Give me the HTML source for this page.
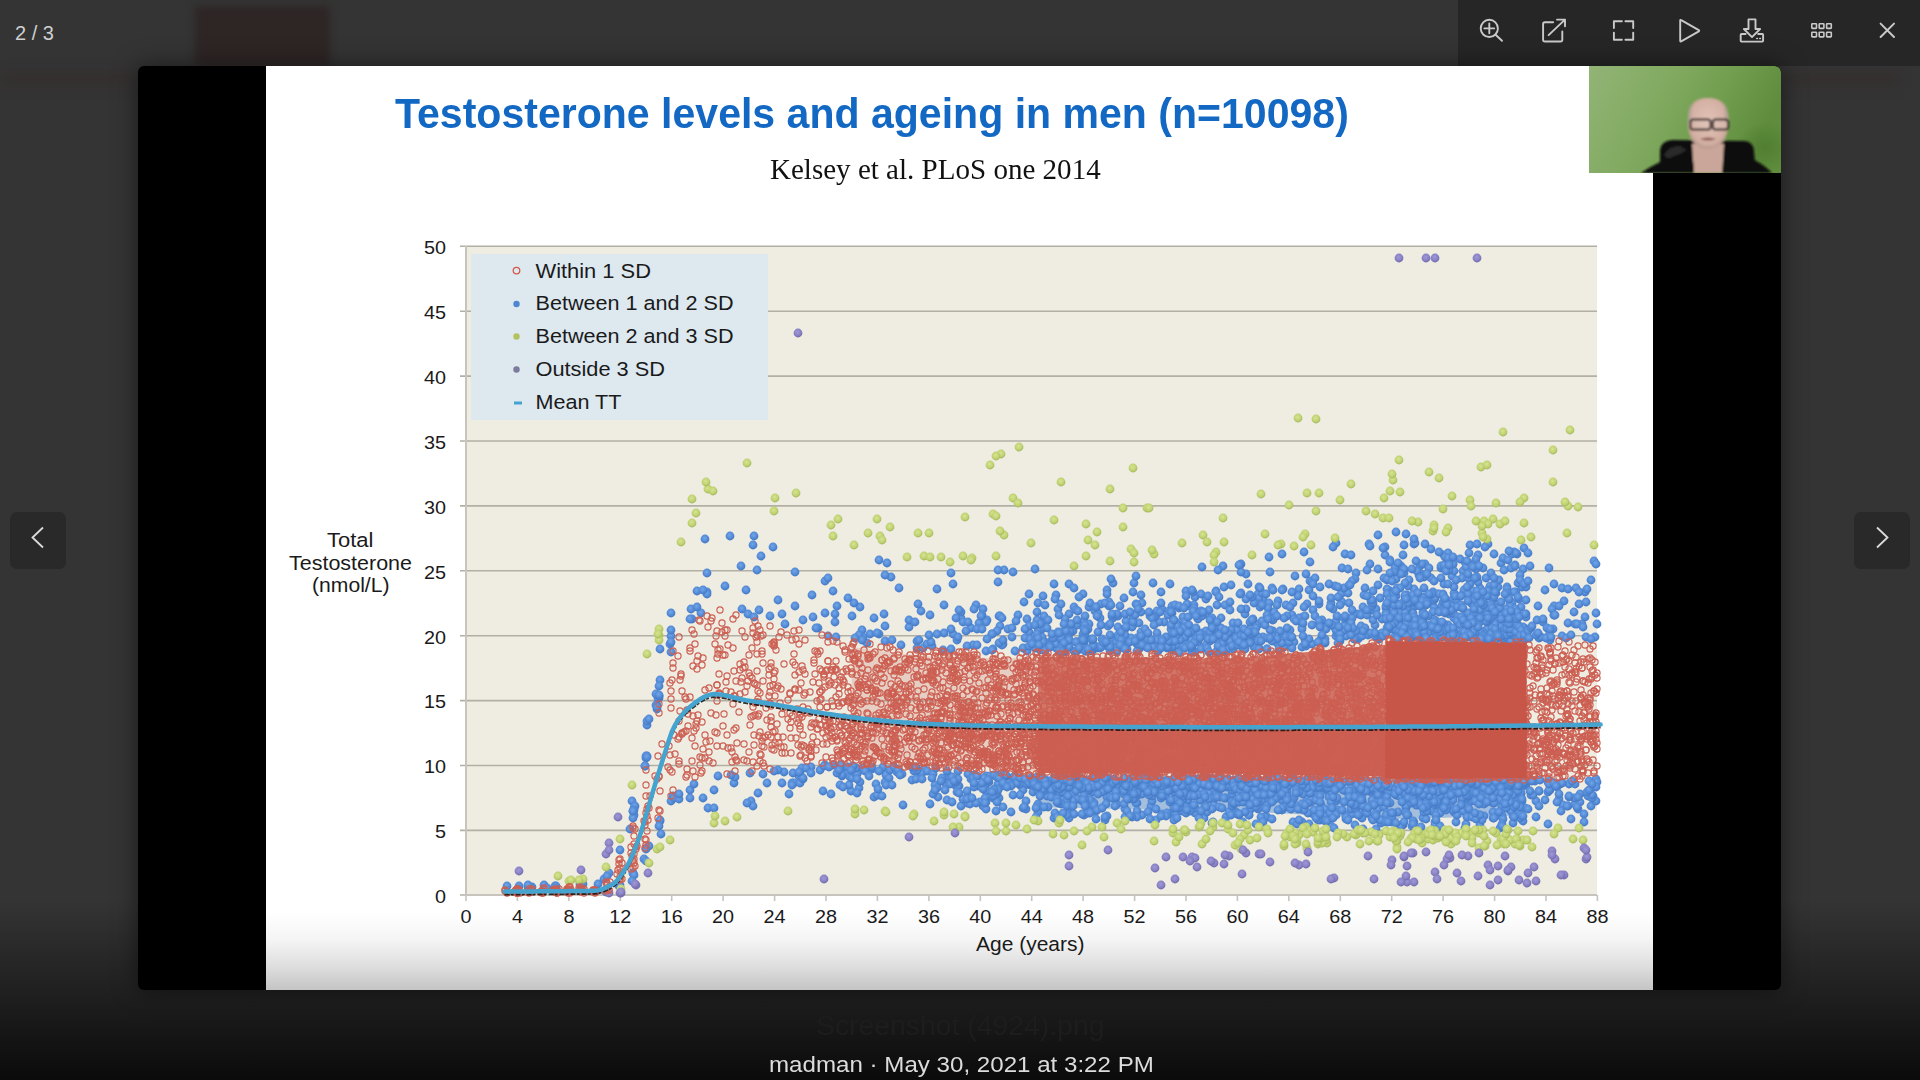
<!DOCTYPE html>
<html><head><meta charset="utf-8">
<style>
*{margin:0;padding:0;box-sizing:border-box}
html,body{width:1920px;height:1080px;overflow:hidden;background:#343434;font-family:"Liberation Sans",sans-serif;position:relative}
.abs{position:absolute}
#toolbar{left:1458px;top:0;width:462px;height:66px;background:#262626}
#counter{left:15px;top:22px;color:#cfcfcf;font-size:20px}
#frame{left:138px;top:66px;width:1643px;height:924px;background:#000;border-radius:6px;overflow:hidden;box-shadow:0 0 24px rgba(0,0,0,0.5)}
#slide{left:128px;top:0;width:1387px;height:924px;background:#fff}
#slidegrad{left:0;bottom:0;width:1387px;height:78px;background:linear-gradient(#fff 0%,#f5f5f5 35%,#dedede 70%,#c4c4c4 100%)}
#title{left:129px;top:23px;color:#1268c2;font-weight:bold;font-size:43px;white-space:nowrap;transform:scaleX(0.9545);transform-origin:0 0}
#subtitle{left:504px;top:86px;color:#111;font-family:"Liberation Serif",serif;font-size:30px;white-space:nowrap;transform:scaleX(0.968);transform-origin:0 0}
#cam{left:1451px;top:0;width:192px;height:107px;overflow:hidden;border-top-right-radius:6px}
#bottom{left:0;top:900px;width:1920px;height:180px;background:linear-gradient(rgba(0,0,0,0),rgba(0,0,0,0.38) 50%,rgba(0,0,0,0.8))}
#fname{left:816px;top:1011px;color:#1d1d1d;font-size:27px;white-space:nowrap;transform:scaleX(1.05);transform-origin:0 0}
#caption{left:769px;top:1052.5px;color:#dcdcdc;font-size:21.5px;white-space:nowrap;transform:scaleX(1.122);transform-origin:0 0}
.nav{top:512px;width:56px;height:57px;background:#292929;border-radius:7px}
</style></head>
<body>
<div class="abs" style="left:195px;top:6px;width:135px;height:60px;background:#2e2525;filter:blur(4px)"></div>
<div class="abs" style="left:0;top:70px;width:138px;height:18px;background:#352d2d;filter:blur(6px);opacity:0.6"></div>
<div class="abs" style="left:1781px;top:70px;width:120px;height:18px;background:#352d2d;filter:blur(6px);opacity:0.6"></div>
<div class="abs" id="toolbar"></div>
<svg class="abs" style="left:1458px;top:0" width="462" height="66" viewBox="1458 0 462 66" fill="none" stroke="#c9c9c9" stroke-width="1.9" stroke-linecap="round" stroke-linejoin="round">
<circle cx="1489.3" cy="28.4" r="8.6"/>
<path d="M1484.4 28.4h9.8M1489.3 23.5v9.8M1495.6 34.7l6.4 6.1"/>
<path d="M1553.2 22.2h-8.3q-1.8 0-1.8 1.8v15.7q0 1.8 1.8 1.8h15.6q1.8 0 1.8-1.8v-8.2"/>
<path d="M1548.6 35.1L1565 19.6M1557 19.6h8v6.6"/>
<path d="M1613.9 28.1v-6.8h8M1625.4 21.3h7.8v6.8M1633.2 32.6v7.1h-7.8M1621.9 39.7h-8v-7.1"/>
<path d="M1680.2 20.5v20.2q0 1.2 1 0.6l17.6-10q0.8-0.6 0-1.2l-17.6-10q-1-0.6-1 0.4z"/>
<path d="M1748.5 19.4h7v9.6h4.6l-8.1 8.1l-8.1-8.1h4.6z"/>
<path d="M1745.6 34h-4.1q-0.8 0-0.8 0.8v6q0 0.8 0.8 0.8h20.8q0.8 0 0.8-0.8v-6q0-0.8-0.8-0.8h-4.1"/>
<path d="M1756.8 38.5h0.6M1759.8 38.5h0.6" stroke-width="1.6"/>
<g stroke-width="1.6"><rect x="1811.8" y="23.7" width="4.7" height="4.7" rx="0.6"/><rect x="1819.2" y="23.7" width="4.7" height="4.7" rx="0.6"/><rect x="1826.6" y="23.7" width="4.7" height="4.7" rx="0.6"/>
<rect x="1811.8" y="32.2" width="4.7" height="4.7" rx="0.6"/><rect x="1819.2" y="32.2" width="4.7" height="4.7" rx="0.6"/><rect x="1826.6" y="32.2" width="4.7" height="4.7" rx="0.6"/></g>
<path d="M1880.6 23.6l13.4 13.4M1894 23.6l-13.4 13.4" stroke-width="2"/>
</svg>
<div class="abs" id="counter">2 / 3</div>

<div class="abs" id="bottom"></div>
<div class="abs" id="frame">
  <div class="abs" id="slide">
    <div class="abs" id="slidegrad"></div>
    <div class="abs" id="title">Testosterone levels and ageing in men (n=10098)</div>
    <div class="abs" id="subtitle">Kelsey et al. PLoS one 2014</div>
  </div>
  <div class="abs" id="cam"><svg width="192" height="107" viewBox="1589 66 192 107">
<defs>
<linearGradient id="cbg" x1="0" y1="0" x2="1" y2="0.3"><stop offset="0" stop-color="#92b476"/><stop offset="0.45" stop-color="#80a95f"/><stop offset="0.75" stop-color="#6f9c4c"/><stop offset="1" stop-color="#5f8d3d"/></linearGradient>
<radialGradient id="cface" cx="50%" cy="45%" r="55%"><stop offset="0" stop-color="#e2c3b6"/><stop offset="0.8" stop-color="#d4b0a3"/><stop offset="1" stop-color="#b99a8e"/></radialGradient>
<radialGradient id="cshade" cx="80%" cy="65%" r="35%"><stop offset="0" stop-color="#4d7a2e" stop-opacity="0.8"/><stop offset="1" stop-color="#4d7a2e" stop-opacity="0"/></radialGradient>
<filter id="cblur" x="-10%" y="-10%" width="120%" height="120%"><feGaussianBlur stdDeviation="0.8"/></filter>
</defs>
<rect x="1589" y="66" width="192" height="107" fill="url(#cbg)"/>
<rect x="1700" y="100" width="81" height="73" fill="url(#cshade)"/>
<g filter="url(#cblur)">
<path d="M1660 173 L1660 150 Q1661 141 1672 140 L1745 141 Q1754 142 1754 152 L1756 173Z" fill="#0d0d0d"/>
<path d="M1664 156 Q1668 146 1680 146 L1686 150 L1672 160Z" fill="#3a3a3a" opacity="0.7"/>
<path d="M1641 173 Q1660 160 1685 152 L1732 152 Q1758 158 1772 173Z" fill="#0a0a0a"/>
<path d="M1692 144 L1724 144 L1723 160 Q1722 173 1722 173 L1694 173 Q1694 165 1693 160Z" fill="#c9a699"/>
<path d="M1688 118 Q1688 98 1708 98 Q1728 98 1728.5 118 Q1729 136 1722 143 Q1714 149 1708 149 Q1701 149 1694 143 Q1687 136 1688 118Z" fill="url(#cface)"/>
<path d="M1688 122 Q1687 108 1692 104 L1691 122Z M1728.5 122 Q1729 108 1724 104 L1725 122Z" fill="#a89e96" opacity="0.6"/>
<rect x="1690.5" y="119.5" width="20" height="10" rx="2.5" fill="#e8ddd8" fill-opacity="0.12" stroke="#2a2020" stroke-width="2"/>
<rect x="1713" y="119.5" width="15" height="10" rx="2.5" fill="#e8ddd8" fill-opacity="0.12" stroke="#2a2020" stroke-width="2"/>
<path d="M1700 139 Q1708 136 1716 139 Q1708 142 1700 139Z" fill="#8a5a55"/>
</g>
</svg></div>
</div>

<svg class="abs" style="left:0;top:0" width="1920" height="1080" viewBox="0 0 1920 1080">
<defs>
<radialGradient id="gb" cx="45%" cy="40%" r="60%"><stop offset="0" stop-color="#74a6e8"/><stop offset="0.65" stop-color="#528ad6"/><stop offset="1" stop-color="#4476c0"/></radialGradient>
<radialGradient id="gg" cx="45%" cy="40%" r="60%"><stop offset="0" stop-color="#d6e491"/><stop offset="0.65" stop-color="#c0d272"/><stop offset="1" stop-color="#a3b65a"/></radialGradient>
<radialGradient id="gp" cx="45%" cy="40%" r="60%"><stop offset="0" stop-color="#9f99d8"/><stop offset="0.65" stop-color="#8881c4"/><stop offset="1" stop-color="#6e68a8"/></radialGradient>
<marker id="mb" markerUnits="userSpaceOnUse" markerWidth="12" markerHeight="12" refX="6" refY="6" overflow="visible"><circle cx="6" cy="6" r="4.4" fill="url(#gb)"/></marker>
<marker id="mg" markerUnits="userSpaceOnUse" markerWidth="12" markerHeight="12" refX="6" refY="6" overflow="visible"><circle cx="6" cy="6" r="4.4" fill="url(#gg)"/></marker>
<marker id="mp" markerUnits="userSpaceOnUse" markerWidth="12" markerHeight="12" refX="6" refY="6" overflow="visible"><circle cx="6" cy="6" r="4.4" fill="url(#gp)"/></marker>
<marker id="mr" markerUnits="userSpaceOnUse" markerWidth="12" markerHeight="12" refX="6" refY="6" overflow="visible"><circle cx="6" cy="6" r="3.1" fill="none" stroke="#cc5f52" stroke-width="1.15"/></marker>
</defs>
<rect x="466" y="246" width="1131" height="650" fill="#efece2"/>
<line x1="460" y1="830.4" x2="1597" y2="830.4" stroke="#b2afa5" stroke-width="1.6"/>
<line x1="460" y1="765.5" x2="1597" y2="765.5" stroke="#b2afa5" stroke-width="1.6"/>
<line x1="460" y1="700.6" x2="1597" y2="700.6" stroke="#b2afa5" stroke-width="1.6"/>
<line x1="460" y1="635.7" x2="1597" y2="635.7" stroke="#b2afa5" stroke-width="1.6"/>
<line x1="460" y1="570.8" x2="1597" y2="570.8" stroke="#b2afa5" stroke-width="1.6"/>
<line x1="460" y1="505.9" x2="1597" y2="505.9" stroke="#b2afa5" stroke-width="1.6"/>
<line x1="460" y1="441.0" x2="1597" y2="441.0" stroke="#b2afa5" stroke-width="1.6"/>
<line x1="460" y1="376.1" x2="1597" y2="376.1" stroke="#b2afa5" stroke-width="1.6"/>
<line x1="460" y1="311.2" x2="1597" y2="311.2" stroke="#b2afa5" stroke-width="1.6"/>
<line x1="460" y1="246.3" x2="1597" y2="246.3" stroke="#b2afa5" stroke-width="1.6"/>
<line x1="466" y1="246" x2="466" y2="896" stroke="#c6c4bd" stroke-width="2"/>
<line x1="460" y1="895" x2="1597" y2="895" stroke="#c6c4bd" stroke-width="2"/>
<line x1="466.0" y1="895" x2="466.0" y2="901" stroke="#c6c4bd" stroke-width="1.6"/>
<line x1="517.4" y1="895" x2="517.4" y2="901" stroke="#c6c4bd" stroke-width="1.6"/>
<line x1="568.9" y1="895" x2="568.9" y2="901" stroke="#c6c4bd" stroke-width="1.6"/>
<line x1="620.3" y1="895" x2="620.3" y2="901" stroke="#c6c4bd" stroke-width="1.6"/>
<line x1="671.7" y1="895" x2="671.7" y2="901" stroke="#c6c4bd" stroke-width="1.6"/>
<line x1="723.1" y1="895" x2="723.1" y2="901" stroke="#c6c4bd" stroke-width="1.6"/>
<line x1="774.6" y1="895" x2="774.6" y2="901" stroke="#c6c4bd" stroke-width="1.6"/>
<line x1="826.0" y1="895" x2="826.0" y2="901" stroke="#c6c4bd" stroke-width="1.6"/>
<line x1="877.4" y1="895" x2="877.4" y2="901" stroke="#c6c4bd" stroke-width="1.6"/>
<line x1="928.9" y1="895" x2="928.9" y2="901" stroke="#c6c4bd" stroke-width="1.6"/>
<line x1="980.3" y1="895" x2="980.3" y2="901" stroke="#c6c4bd" stroke-width="1.6"/>
<line x1="1031.7" y1="895" x2="1031.7" y2="901" stroke="#c6c4bd" stroke-width="1.6"/>
<line x1="1083.1" y1="895" x2="1083.1" y2="901" stroke="#c6c4bd" stroke-width="1.6"/>
<line x1="1134.6" y1="895" x2="1134.6" y2="901" stroke="#c6c4bd" stroke-width="1.6"/>
<line x1="1186.0" y1="895" x2="1186.0" y2="901" stroke="#c6c4bd" stroke-width="1.6"/>
<line x1="1237.4" y1="895" x2="1237.4" y2="901" stroke="#c6c4bd" stroke-width="1.6"/>
<line x1="1288.8" y1="895" x2="1288.8" y2="901" stroke="#c6c4bd" stroke-width="1.6"/>
<line x1="1340.3" y1="895" x2="1340.3" y2="901" stroke="#c6c4bd" stroke-width="1.6"/>
<line x1="1391.7" y1="895" x2="1391.7" y2="901" stroke="#c6c4bd" stroke-width="1.6"/>
<line x1="1443.1" y1="895" x2="1443.1" y2="901" stroke="#c6c4bd" stroke-width="1.6"/>
<line x1="1494.6" y1="895" x2="1494.6" y2="901" stroke="#c6c4bd" stroke-width="1.6"/>
<line x1="1546.0" y1="895" x2="1546.0" y2="901" stroke="#c6c4bd" stroke-width="1.6"/>
<line x1="1597.4" y1="895" x2="1597.4" y2="901" stroke="#c6c4bd" stroke-width="1.6"/>
<rect x="471" y="254" width="297" height="166" fill="#dde8ef"/>
<path d="M1038.1,780.0 L1050.5,780.1 L1062.9,780.1 L1075.2,780.2 L1087.6,780.3 L1099.9,780.3 L1112.3,780.4 L1124.7,780.4 L1137.0,780.5 L1149.4,780.5 L1161.8,780.5 L1174.1,780.6 L1186.5,780.6 L1198.8,780.6 L1211.2,780.6 L1223.6,780.6 L1235.9,780.6 L1248.3,780.9 L1260.7,781.1 L1273.0,781.4 L1285.4,781.7 L1297.7,781.9 L1310.1,782.2 L1322.5,782.4 L1334.8,782.6 L1347.2,782.9 L1359.6,783.1 L1371.9,783.3 L1384.3,783.6 L1396.6,783.7 L1409.0,783.6 L1421.4,783.6 L1433.7,783.5 L1446.1,783.4 L1458.5,783.3 L1470.8,783.3 L1483.2,783.2 L1495.5,783.1 L1507.9,783.0 L1520.3,782.9 L1520.3,815.4 L1507.9,815.8 L1495.5,816.2 L1483.2,816.6 L1470.8,816.9 L1458.5,817.3 L1446.1,817.7 L1433.7,818.0 L1421.4,818.4 L1409.0,818.8 L1396.6,819.1 L1384.3,818.9 L1371.9,818.2 L1359.6,817.6 L1347.2,816.9 L1334.8,816.3 L1322.5,815.6 L1310.1,814.9 L1297.7,814.3 L1285.4,813.6 L1273.0,813.0 L1260.7,812.3 L1248.3,811.6 L1235.9,811.0 L1223.6,810.8 L1211.2,810.6 L1198.8,810.4 L1186.5,810.2 L1174.1,809.9 L1161.8,809.7 L1149.4,809.5 L1137.0,809.3 L1124.7,809.0 L1112.3,808.8 L1099.9,808.6 L1087.6,808.3 L1075.2,808.1 L1062.9,807.8 L1050.5,807.6 L1038.1,807.3Z" fill="#5a8fd8" opacity="0.5"/>
<g fill="none" stroke="none">
<polyline marker-start="url(#mb)" marker-mid="url(#mb)" marker-end="url(#mb)" points="556,887 532,887 507,886 598,884 528,887 519,886 555,886 531,888 556,886 544,885 518,889 604,879 609,873 555,888 547,888 528,885 580,884 583,884 581,886 620,850 607,876 632,801 619,886 620,885 607,891 633,873 606,892 634,808 660,680 671,613 647,725 671,636 670,644 671,642 656,705 647,756 633,811 659,696 646,756 657,705 657,709 659,698 658,698 659,696 657,707 660,649 646,758 671,630 671,652 656,694 647,757 634,815 645,766 635,806 645,766 647,721 659,695 630,829 633,818 634,810 649,719 659,686 633,811 633,873 634,875 660,821 632,881 649,846 646,849 644,859 661,834 646,861 660,820 673,796 659,826 671,801 691,609 697,591 707,573 707,592 707,594 703,590 701,613 697,607 692,619 705,539 690,619 718,776 690,790 674,798 708,808 690,798 679,799 694,784 714,790 679,794 714,808 703,798 754,536 818,628 812,595 795,572 778,600 761,556 816,628 803,620 742,609 782,614 748,614 757,570 725,586 785,624 753,545 825,581 741,566 770,616 773,547 813,617 730,536 825,613 746,590 795,606 759,610 754,617 784,772 792,783 799,776 823,791 782,783 751,801 789,794 753,806 734,783 735,777 802,768 763,774 811,767 758,793 794,783 825,765 792,785 800,783 731,775 803,779 750,773 778,770 800,773 806,768 774,771 803,778 747,803 793,773 811,773 820,770 824,766 799,772 767,783 909,627 874,618 909,620 879,634 879,560 885,626 917,648 833,591 923,648 828,636 885,641 884,614 828,578 852,616 862,630 867,643 870,634 863,637 860,607 927,644 915,622 836,637 917,641 837,606 899,588 877,633 859,635 891,577 835,622 862,640 887,563 854,603 919,640 921,611 892,640 855,638 918,604 835,614 848,598 885,575 901,645 920,773 845,770 852,768 861,770 879,795 924,769 885,782 842,776 847,772 859,788 850,777 886,772 922,773 860,782 876,784 842,768 902,774 914,771 851,791 863,768 849,785 853,777 912,780 903,805 857,793 883,770 840,771 840,785 883,767 916,779 872,769 874,797 886,775 889,778 890,770 841,765 912,767 852,778 877,795 848,767 842,775 856,774 897,772 894,767 882,796 922,779 927,771 857,774 878,789 872,767 898,770 917,770 856,768 857,779 853,766 886,785 837,773 833,765 865,771 916,767 892,785 869,776 851,770 831,794 829,767 900,775 879,771 843,787 839,770 1000,626 1013,572 953,584 1008,629 1029,632 932,646 961,618 987,620 931,642 986,622 973,645 961,612 1003,644 1027,651 953,634 1012,628 998,582 967,646 971,628 943,650 1004,570 1025,638 976,605 1030,639 1027,619 944,633 929,635 983,609 963,622 997,631 992,634 992,634 1023,648 1018,615 930,615 966,631 982,615 979,623 951,649 998,570 937,589 968,622 956,618 974,609 957,640 993,649 1029,626 1029,646 1002,645 937,634 977,629 977,645 999,643 959,610 999,616 1024,602 951,573 982,629 958,637 986,651 1003,640 1000,616 992,650 987,639 1002,618 981,616 944,605 1029,594 1012,637 1025,629 951,629 1016,621 1015,651 948,775 946,784 1023,808 937,787 986,776 1021,786 933,774 999,798 949,781 938,797 930,804 987,791 998,784 974,775 958,771 956,784 986,784 983,806 1016,780 986,809 956,786 995,789 986,791 967,803 987,779 995,789 1023,790 983,779 973,776 993,798 990,776 933,794 959,786 1026,809 986,802 970,804 999,775 1012,778 1031,778 1007,777 984,779 1019,780 1003,807 935,785 937,788 1017,778 1020,784 961,806 968,774 963,799 1030,785 980,785 1015,776 1011,812 971,779 1027,784 968,796 978,786 958,786 967,791 980,802 985,798 974,787 956,782 997,777 985,803 950,778 1015,783 932,778 976,803 997,794 967,799 1014,777 997,802 996,811 956,782 984,778 1009,783 996,794 1004,776 935,790 996,776 942,778 947,800 952,802 1002,786 998,790 958,779 936,768 1026,801 1006,776 993,790 973,778 1004,775 977,776 974,783 972,798 1020,795 1011,785 957,792 941,781 994,775 950,784 1017,783 983,789 989,782 994,790 1011,786 997,777 945,790 952,777 1020,778 999,778 993,796 1013,795 982,783 947,771 1006,775 1025,779 1003,783 992,792 959,793 1007,787 988,780 1029,783 954,781 1024,807 988,780 1146,633 1037,620 1194,635 1166,645 1182,636 1164,622 1121,647 1225,605 1111,639 1206,614 1089,607 1101,604 1054,584 1107,590 1082,639 1084,628 1084,621 1172,613 1125,637 1083,634 1140,643 1146,647 1118,641 1141,612 1038,635 1052,640 1183,625 1179,608 1102,639 1070,641 1159,622 1178,631 1042,623 1206,599 1036,638 1133,625 1195,652 1217,637 1230,610 1113,583 1127,649 1073,631 1188,642 1225,644 1233,623 1183,639 1141,640 1136,604 1190,606 1117,643 1153,583 1177,645 1195,597 1183,617 1171,629 1113,618 1118,647 1216,591 1058,609 1159,641 1100,648 1123,646 1170,584 1093,644 1139,649 1061,647 1202,633 1194,605 1094,647 1044,616 1142,603 1167,648 1131,638 1056,648 1177,623 1118,649 1085,636 1184,638 1187,640 1156,615 1118,635 1043,649 1172,650 1070,633 1223,566 1191,640 1068,637 1045,642 1177,626 1223,642 1118,616 1084,645 1233,641 1212,638 1217,605 1092,651 1168,641 1100,618 1116,643 1209,610 1198,642 1233,632 1097,648 1198,619 1224,650 1043,596 1084,641 1058,632 1074,651 1228,649 1107,646 1201,611 1221,635 1194,608 1204,648 1133,623 1095,611 1162,609 1185,637 1056,644 1134,583 1074,607 1084,628 1217,636 1077,642 1185,622 1161,646 1187,604 1127,643 1157,611 1125,629 1186,591 1048,620 1045,643 1172,647 1169,611 1172,606 1157,633 1235,641 1067,633 1152,640 1228,641 1070,631 1077,625 1092,639 1173,621 1042,629 1148,640 1108,626 1193,611 1206,631 1085,616 1065,652 1060,651 1119,638 1230,602 1202,616 1069,647 1200,613 1042,637 1087,630 1125,635 1160,612 1215,634 1109,602 1037,612 1043,642 1222,642 1042,648 1228,638 1107,594 1206,645 1056,595 1110,635 1064,637 1216,592 1071,624 1061,632 1193,644 1153,647 1089,624 1101,646 1098,613 1118,627 1085,625 1040,650 1076,610 1068,637 1236,645 1062,643 1141,595 1038,631 1035,569 1126,621 1085,634 1201,649 1076,642 1201,594 1186,645 1097,616 1123,640 1237,644 1192,647 1219,643 1221,618 1212,624 1053,638 1233,649 1141,632 1122,643 1095,646 1086,651 1186,596 1077,651 1111,649 1119,644 1150,616 1212,618 1202,567 1114,648 1067,634 1175,605 1066,631 1047,628 1210,641 1171,625 1168,647 1137,651 1117,651 1230,641 1083,594 1121,632 1210,632 1112,616 1094,648 1179,633 1237,630 1216,652 1036,640 1203,635 1157,640 1103,641 1090,651 1171,642 1221,628 1064,642 1069,614 1084,629 1121,640 1210,632 1096,647 1093,646 1168,615 1154,618 1186,629 1071,624 1037,634 1065,619 1169,641 1152,618 1137,644 1055,599 1050,646 1192,652 1061,639 1063,651 1191,648 1220,652 1088,629 1052,634 1132,627 1222,638 1219,646 1166,637 1191,632 1207,648 1086,630 1162,639 1197,639 1224,587 1040,624 1209,652 1184,628 1138,644 1183,646 1069,640 1236,638 1061,638 1189,625 1179,606 1092,640 1208,639 1137,605 1161,592 1035,625 1137,638 1093,639 1200,634 1077,620 1200,638 1059,615 1174,620 1035,648 1231,630 1085,651 1130,642 1064,624 1069,584 1079,597 1105,643 1188,633 1061,604 1145,629 1109,606 1158,651 1214,629 1088,651 1040,648 1085,631 1078,611 1140,637 1120,645 1142,645 1098,632 1162,641 1180,640 1220,648 1151,640 1125,649 1101,647 1171,612 1193,592 1110,624 1228,633 1139,623 1038,603 1117,614 1059,633 1149,612 1154,625 1222,644 1124,598 1126,627 1136,576 1171,612 1038,638 1185,648 1192,590 1188,617 1088,649 1225,637 1217,622 1223,652 1196,616 1148,648 1074,588 1112,614 1232,646 1045,651 1120,606 1196,628 1032,644 1062,647 1059,651 1135,641 1104,643 1194,643 1064,643 1083,640 1110,645 1161,648 1219,597 1133,617 1076,642 1219,635 1184,608 1176,636 1110,651 1210,620 1045,605 1090,603 1062,652 1208,596 1133,592 1050,647 1231,585 1175,641 1179,653 1105,603 1079,648 1133,622 1096,607 1218,646 1111,605 1135,615 1096,607 1203,612 1213,639 1138,609 1180,631 1039,645 1125,614 1218,570 1111,579 1110,647 1223,650 1130,612 1161,603 1141,636 1101,625 1148,633 1172,633 1174,633 1191,646 1106,642 1212,628 1225,630 1216,783 1236,783 1186,791 1105,779 1041,777 1145,789 1054,778 1036,789 1187,807 1128,796 1081,778 1150,783 1114,779 1174,806 1184,780 1088,780 1235,785 1062,799 1075,778 1108,778 1126,786 1096,789 1194,784 1088,791 1118,782 1226,781 1114,782 1198,793 1219,782 1201,793 1055,781 1204,786 1065,779 1092,792 1059,780 1207,782 1172,802 1186,792 1124,794 1107,797 1175,779 1033,792 1130,791 1169,787 1059,789 1091,787 1038,812 1069,818 1195,785 1148,781 1034,786 1046,780 1045,788 1169,814 1082,801 1153,778 1107,816 1182,793 1176,814 1142,780 1042,789 1068,809 1233,790 1157,780 1199,786 1187,786 1197,780 1232,794 1103,785 1076,787 1216,787 1100,786 1117,785 1138,795 1179,778 1225,784 1122,788 1218,778 1205,794 1142,785 1142,794 1125,809 1149,786 1219,778 1217,787 1060,793 1084,786 1142,815 1172,786 1166,793 1062,784 1068,779 1100,778 1070,780 1143,786 1054,818 1186,794 1165,796 1072,795 1107,781 1092,801 1117,804 1236,812 1131,789 1156,779 1188,800 1073,783 1162,814 1106,804 1046,788 1094,803 1071,779 1110,797 1183,784 1182,780 1124,804 1065,781 1106,781 1141,785 1154,778 1199,785 1046,790 1068,781 1187,779 1227,782 1157,779 1237,814 1167,782 1106,790 1089,790 1218,780 1088,813 1209,778 1052,791 1204,818 1058,786 1137,803 1132,778 1047,787 1059,787 1153,788 1151,778 1175,778 1135,780 1115,799 1205,806 1174,789 1197,779 1038,804 1180,786 1084,815 1076,781 1226,798 1207,812 1229,785 1082,789 1110,783 1151,806 1144,784 1071,800 1163,781 1199,779 1050,782 1193,788 1174,808 1235,803 1122,789 1032,778 1122,783 1139,778 1227,787 1065,791 1150,795 1235,786 1032,780 1116,782 1132,792 1139,778 1037,777 1173,785 1145,785 1174,820 1158,781 1181,781 1173,790 1034,780 1078,784 1214,795 1130,785 1038,780 1213,785 1088,810 1077,799 1110,784 1100,782 1086,782 1127,786 1036,784 1200,797 1058,780 1161,792 1042,782 1137,793 1147,792 1214,805 1073,803 1075,777 1192,808 1053,796 1048,807 1127,787 1219,783 1143,779 1068,788 1210,784 1033,781 1134,778 1061,781 1205,786 1060,788 1150,791 1184,790 1042,789 1156,788 1061,780 1161,798 1047,796 1124,791 1193,779 1182,797 1128,782 1150,790 1115,788 1183,799 1226,817 1037,806 1213,822 1195,813 1234,780 1056,788 1220,789 1136,803 1152,801 1156,788 1134,799 1057,783 1052,792 1115,806 1102,808 1096,811 1217,783 1141,779 1159,794 1126,786 1133,799 1073,801 1179,785 1232,790 1137,788 1102,788 1051,790 1102,792 1156,820 1184,778 1056,787 1143,787 1182,811 1044,791 1091,784 1228,779 1074,787 1186,813 1232,811 1192,786 1090,803 1186,795 1190,809 1144,782 1034,781 1167,784 1072,779 1039,789 1167,813 1193,780 1074,814 1091,788 1197,792 1040,786 1141,788 1055,813 1135,793 1189,782 1037,790 1219,807 1212,781 1213,779 1090,800 1051,797 1195,808 1208,796 1066,779 1048,782 1096,819 1207,779 1129,799 1112,788 1212,809 1067,800 1124,778 1094,805 1070,780 1229,786 1220,783 1044,807 1097,810 1170,802 1098,794 1200,794 1222,808 1148,812 1179,808 1061,782 1063,777 1166,816 1161,816 1201,792 1114,781 1229,812 1217,784 1186,789 1201,790 1034,782 1087,783 1103,778 1137,811 1159,781 1232,806 1213,779 1177,783 1196,785 1082,814 1207,793 1131,789 1167,786 1116,782 1160,782 1118,782 1220,788 1063,779 1190,811 1078,789 1132,786 1175,800 1200,781 1156,780 1070,783 1149,787 1041,786 1067,780 1209,793 1083,797 1234,804 1062,792 1116,786 1070,779 1232,787 1066,786 1126,780 1184,792 1180,802 1212,823 1177,818 1235,781 1112,787 1128,779 1112,798 1137,793 1174,792 1034,784 1185,784 1231,815 1137,817 1075,786 1222,779 1137,785 1112,785 1156,809 1042,779 1173,789 1180,803 1201,783 1076,791 1043,789 1159,787 1207,779 1036,808 1205,778 1180,790 1061,785 1155,791 1073,777 1045,781 1096,781 1102,779 1113,783 1093,784 1209,799 1058,779 1147,779 1199,784 1234,784 1143,778 1067,780 1225,821 1163,792 1189,786 1224,782 1219,778 1153,791 1188,781 1102,808 1072,782 1150,819 1100,780 1057,817 1084,796 1046,785 1152,796 1162,786 1066,785 1127,783 1061,804 1072,784 1127,780 1193,780 1203,778 1037,787 1142,786 1220,797 1201,799 1200,800 1215,798 1069,787 1176,788 1136,783 1067,806 1107,778 1105,820 1036,817 1071,778 1236,782 1232,782 1105,817 1085,800 1204,785 1057,799 1064,784 1073,806 1089,788 1170,782 1149,795 1234,786 1102,783 1147,783 1116,792 1183,796 1167,780 1170,781 1206,807 1088,812 1162,796 1181,793 1060,789 1232,802 1125,817 1217,786 1206,782 1062,787 1198,795 1095,787 1190,796 1227,780 1184,793 1090,813 1133,792 1236,789 1169,790 1204,794 1062,778 1217,797 1058,803 1168,791 1187,810 1094,778 1171,783 1180,794 1171,800 1064,780 1139,780 1135,782 1234,803 1194,805 1082,788 1158,778 1083,800 1085,806 1129,787 1057,802 1116,781 1067,780 1191,784 1154,784 1222,788 1127,811 1199,818 1189,781 1127,799 1079,786 1058,785 1146,780 1155,780 1134,794 1182,786 1067,815 1144,787 1040,796 1194,796 1126,786 1201,811 1154,792 1204,784 1068,796 1158,784 1205,797 1038,787 1176,808 1178,782 1063,813 1209,786 1116,797 1164,782 1132,817 1124,778 1053,779 1166,784 1167,782 1195,788 1224,798 1130,816 1098,786 1105,778 1096,778 1055,779 1108,789 1148,792 1070,782 1380,598 1257,648 1364,595 1358,614 1325,643 1300,621 1280,647 1368,635 1313,610 1310,581 1272,588 1365,613 1299,589 1310,562 1259,648 1263,599 1302,627 1336,636 1303,617 1241,636 1324,627 1267,649 1378,585 1319,604 1241,564 1287,630 1247,641 1255,639 1299,618 1257,596 1377,635 1260,607 1287,639 1277,643 1371,602 1269,557 1286,605 1346,623 1337,633 1345,635 1256,637 1342,602 1279,649 1319,601 1243,648 1305,640 1294,642 1341,594 1379,639 1258,594 1340,605 1240,565 1284,647 1254,647 1333,626 1282,643 1278,601 1292,648 1385,547 1292,615 1251,627 1245,645 1377,635 1315,616 1270,572 1312,644 1351,620 1263,637 1320,623 1302,647 1252,636 1382,633 1273,631 1283,589 1349,603 1258,637 1354,614 1259,598 1373,591 1325,639 1290,630 1322,620 1259,624 1357,634 1248,637 1295,576 1277,605 1359,637 1372,610 1365,588 1309,590 1286,637 1326,629 1269,603 1358,639 1342,568 1357,637 1250,634 1370,564 1241,593 1333,609 1273,620 1376,609 1372,600 1273,637 1276,639 1336,621 1371,633 1257,649 1274,612 1262,621 1372,606 1268,608 1361,615 1294,619 1252,620 1271,619 1283,634 1375,625 1354,639 1340,641 1312,582 1277,639 1373,620 1331,603 1345,554 1378,637 1245,614 1267,615 1254,633 1302,629 1320,641 1304,552 1246,609 1321,639 1336,630 1309,639 1385,555 1312,625 1296,621 1331,598 1259,587 1248,584 1270,630 1361,626 1253,619 1345,625 1335,586 1238,623 1330,624 1267,638 1298,596 1347,618 1282,590 1243,639 1287,628 1244,636 1259,649 1384,578 1287,616 1273,590 1332,625 1280,631 1348,593 1246,574 1315,578 1246,599 1325,642 1238,645 1373,603 1286,637 1344,626 1250,622 1313,584 1252,620 1352,618 1356,573 1346,636 1256,628 1383,548 1305,616 1284,618 1240,594 1372,600 1258,641 1365,628 1355,579 1343,631 1329,584 1344,588 1367,614 1337,616 1383,636 1241,609 1352,610 1239,642 1362,636 1241,572 1318,642 1292,592 1363,631 1351,628 1265,625 1293,603 1369,544 1349,627 1289,642 1307,604 1244,649 1340,634 1319,621 1262,593 1306,646 1367,596 1262,605 1255,632 1336,543 1378,569 1375,636 1245,649 1338,643 1267,649 1330,607 1272,641 1382,619 1277,616 1344,618 1250,643 1356,631 1261,641 1348,569 1367,570 1370,546 1363,607 1282,554 1270,638 1351,623 1244,629 1367,615 1351,635 1353,628 1290,607 1320,627 1290,637 1367,610 1351,555 1304,607 1248,632 1338,597 1329,623 1375,633 1339,627 1239,565 1352,581 1254,603 1303,636 1320,587 1377,615 1349,585 1333,547 1305,644 1303,623 1350,585 1244,645 1260,588 1252,597 1266,594 1313,596 1378,535 1250,595 1348,628 1268,619 1340,639 1345,616 1338,587 1306,574 1322,635 1292,637 1317,813 1327,791 1303,808 1314,787 1267,784 1352,784 1363,805 1273,780 1362,794 1362,818 1264,794 1275,789 1255,801 1295,781 1255,786 1283,797 1263,784 1374,787 1256,781 1371,783 1268,791 1292,780 1299,783 1298,792 1310,781 1337,783 1357,791 1243,822 1274,779 1363,789 1292,800 1385,783 1355,825 1376,786 1245,788 1329,784 1326,780 1364,787 1245,783 1369,784 1275,785 1302,782 1271,801 1326,783 1382,787 1318,795 1382,799 1364,789 1282,800 1327,789 1253,787 1249,797 1271,790 1308,779 1380,784 1346,815 1308,785 1250,783 1305,787 1270,793 1352,788 1272,784 1267,817 1365,782 1256,802 1309,785 1374,789 1301,808 1347,792 1241,788 1360,792 1262,793 1352,792 1311,802 1287,784 1297,786 1336,801 1313,814 1365,809 1346,819 1280,796 1297,788 1381,793 1324,781 1354,785 1302,783 1334,784 1322,788 1323,809 1309,793 1324,783 1361,792 1362,781 1313,785 1249,815 1337,810 1325,786 1309,781 1329,797 1319,801 1282,810 1337,784 1337,798 1372,791 1272,781 1287,787 1348,781 1254,798 1267,779 1251,793 1325,815 1259,794 1248,802 1313,780 1238,814 1308,813 1257,788 1340,781 1320,820 1275,783 1275,790 1287,792 1381,782 1377,804 1331,787 1350,782 1240,790 1269,783 1283,785 1322,808 1371,792 1260,785 1380,783 1356,794 1351,804 1321,805 1357,807 1367,783 1309,824 1280,785 1363,803 1356,808 1385,783 1316,788 1297,806 1384,800 1241,786 1378,793 1270,780 1266,780 1359,798 1331,802 1306,802 1356,798 1265,817 1311,799 1277,780 1245,779 1382,782 1258,809 1239,802 1352,814 1333,784 1384,804 1277,783 1351,793 1369,788 1266,798 1247,783 1299,792 1314,810 1360,783 1259,794 1293,822 1282,782 1288,797 1321,784 1372,818 1357,786 1246,793 1335,812 1241,782 1376,829 1288,807 1359,782 1351,788 1285,797 1301,809 1279,783 1249,804 1294,780 1382,783 1270,795 1381,823 1384,788 1290,780 1351,809 1241,784 1369,789 1355,789 1380,782 1346,817 1355,808 1284,791 1312,780 1355,781 1271,784 1376,815 1288,786 1264,783 1250,810 1288,782 1251,780 1243,786 1359,815 1273,780 1293,779 1358,786 1282,808 1376,814 1313,786 1249,815 1243,802 1364,806 1363,789 1365,788 1377,781 1365,788 1323,780 1239,779 1271,784 1332,788 1329,785 1253,799 1325,809 1373,790 1266,781 1304,784 1343,790 1323,786 1352,792 1363,791 1363,806 1279,784 1384,789 1330,813 1317,780 1298,791 1377,819 1278,780 1311,788 1349,791 1261,786 1265,801 1316,800 1256,824 1303,794 1354,799 1376,783 1348,820 1353,805 1256,782 1383,787 1332,793 1384,787 1274,789 1357,785 1251,782 1344,782 1325,821 1369,785 1239,778 1355,805 1256,793 1267,784 1318,820 1246,796 1368,790 1372,788 1242,786 1310,793 1245,779 1257,780 1269,793 1290,807 1367,813 1363,829 1319,787 1301,781 1261,817 1342,810 1368,807 1292,780 1302,822 1255,790 1262,802 1362,782 1331,826 1284,789 1302,787 1312,783 1312,788 1377,789 1372,800 1373,820 1366,791 1338,783 1378,809 1308,803 1331,781 1283,780 1332,808 1259,780 1247,789 1381,820 1335,786 1367,781 1310,793 1384,788 1383,789 1378,795 1285,791 1328,788 1257,778 1316,818 1254,783 1319,783 1304,808 1302,804 1375,814 1294,798 1292,801 1333,797 1276,784 1373,805 1287,797 1250,783 1299,792 1339,781 1302,783 1381,781 1285,783 1256,783 1266,792 1320,796 1385,789 1362,799 1353,798 1245,812 1327,821 1375,781 1277,788 1363,783 1326,783 1296,785 1256,807 1336,815 1264,794 1320,810 1265,782 1297,824 1268,789 1279,779 1361,789 1291,809 1333,818 1262,800 1258,799 1304,810 1291,803 1289,780 1328,784 1351,803 1293,782 1358,815 1376,803 1267,806 1296,790 1275,799 1381,788 1266,788 1265,781 1307,788 1239,815 1384,807 1282,794 1374,805 1381,802 1285,784 1272,819 1296,793 1350,781 1278,810 1303,785 1333,783 1349,797 1369,784 1258,795 1320,814 1376,816 1243,797 1355,797 1273,786 1306,781 1330,783 1271,794 1291,804 1239,814 1340,786 1298,809 1378,786 1335,790 1344,802 1301,781 1256,803 1305,805 1361,800 1263,822 1299,820 1239,798 1368,808 1334,828 1273,788 1272,802 1320,802 1248,779 1250,805 1316,780 1246,797 1264,795 1266,809 1287,800 1394,637 1494,554 1453,599 1433,592 1423,623 1495,618 1458,639 1429,629 1446,633 1516,592 1498,624 1477,626 1425,564 1496,582 1475,604 1525,615 1424,631 1515,634 1394,608 1399,616 1430,625 1492,627 1514,592 1505,631 1433,628 1443,628 1442,606 1470,595 1504,625 1513,625 1417,621 1425,629 1401,569 1420,566 1514,552 1436,639 1496,593 1514,618 1506,628 1393,629 1509,599 1407,624 1452,565 1501,632 1422,564 1492,598 1441,568 1411,638 1518,637 1387,580 1453,564 1452,606 1449,614 1422,636 1454,618 1475,637 1424,635 1387,628 1402,631 1465,615 1426,639 1517,554 1434,607 1405,602 1413,613 1519,599 1426,574 1427,599 1420,573 1405,630 1476,639 1490,627 1505,630 1476,616 1500,630 1390,560 1424,577 1433,626 1424,588 1408,598 1453,613 1505,640 1481,611 1421,639 1513,613 1526,614 1442,606 1521,634 1524,628 1453,613 1404,628 1433,627 1390,591 1510,630 1388,605 1452,636 1511,612 1499,637 1445,606 1444,584 1518,597 1437,622 1462,635 1472,597 1397,588 1474,600 1407,595 1416,619 1510,604 1441,566 1402,634 1500,626 1494,639 1396,615 1443,602 1463,571 1386,619 1478,638 1512,603 1446,607 1423,616 1410,638 1414,589 1432,600 1512,635 1487,622 1476,569 1496,588 1409,580 1523,569 1498,587 1465,562 1491,637 1437,636 1516,641 1456,600 1444,565 1434,623 1419,575 1473,598 1470,622 1387,589 1520,634 1477,608 1392,609 1480,588 1461,640 1460,559 1461,605 1387,579 1437,636 1508,629 1510,628 1414,544 1388,617 1475,562 1464,619 1421,627 1424,616 1396,579 1513,625 1478,555 1497,619 1396,620 1421,637 1401,613 1487,639 1422,637 1485,604 1413,595 1452,576 1507,587 1488,544 1472,604 1394,613 1490,586 1404,545 1427,633 1388,626 1503,618 1390,620 1454,593 1476,631 1483,613 1396,596 1478,582 1473,591 1434,600 1388,594 1386,608 1462,637 1444,631 1495,624 1458,636 1477,630 1507,589 1396,630 1401,566 1481,640 1469,596 1388,630 1415,634 1400,604 1405,597 1449,635 1454,571 1512,554 1467,635 1408,586 1466,567 1510,606 1504,618 1516,620 1470,545 1499,613 1408,634 1511,640 1474,605 1434,631 1469,553 1457,607 1446,630 1474,598 1462,578 1525,636 1424,597 1464,637 1438,625 1521,637 1511,568 1433,612 1467,561 1423,612 1449,570 1521,634 1471,613 1405,615 1407,628 1448,636 1424,624 1390,562 1521,607 1494,634 1455,638 1419,637 1499,580 1408,636 1403,555 1423,620 1510,640 1469,616 1409,605 1507,635 1407,608 1488,590 1522,587 1458,617 1464,623 1500,636 1491,636 1424,616 1515,565 1501,616 1481,634 1475,578 1474,618 1435,620 1442,611 1518,625 1460,596 1415,606 1464,590 1486,640 1426,639 1485,605 1470,584 1512,628 1505,618 1517,639 1405,600 1408,600 1404,573 1461,639 1428,616 1487,629 1485,606 1510,625 1403,630 1501,619 1466,627 1502,639 1526,600 1417,598 1419,627 1468,613 1498,607 1386,633 1387,594 1476,559 1462,608 1483,632 1445,601 1445,613 1388,621 1443,594 1494,585 1485,620 1481,618 1448,625 1508,631 1396,638 1425,638 1491,635 1423,598 1508,598 1475,600 1431,549 1445,602 1457,621 1415,543 1477,591 1464,626 1463,608 1436,638 1508,628 1518,583 1516,639 1468,594 1403,603 1507,593 1526,587 1407,609 1445,600 1493,600 1526,617 1506,609 1479,636 1488,591 1426,605 1468,637 1437,594 1406,616 1478,606 1419,620 1486,610 1495,609 1492,628 1482,596 1446,635 1500,608 1466,631 1478,632 1508,637 1511,641 1508,634 1399,631 1494,597 1400,620 1418,593 1473,567 1483,612 1520,633 1398,623 1480,631 1505,630 1404,569 1416,633 1487,596 1460,625 1524,639 1475,633 1444,624 1436,629 1489,613 1509,599 1450,611 1502,636 1386,613 1451,610 1462,632 1515,566 1420,622 1516,614 1468,578 1412,633 1479,623 1421,633 1416,561 1442,635 1428,633 1517,631 1437,622 1386,606 1431,578 1440,627 1414,617 1516,553 1454,587 1417,571 1468,627 1488,614 1446,612 1526,629 1418,605 1473,632 1434,622 1426,640 1390,626 1516,615 1514,619 1467,623 1489,608 1395,623 1461,617 1392,625 1487,622 1497,631 1482,639 1494,615 1525,614 1463,634 1512,635 1444,555 1401,574 1483,636 1480,610 1520,575 1406,534 1405,583 1446,571 1449,638 1514,628 1486,578 1435,598 1434,581 1525,633 1501,563 1439,635 1468,601 1428,639 1469,634 1439,594 1405,612 1414,602 1447,605 1422,601 1403,606 1391,597 1506,613 1453,564 1491,573 1477,577 1523,627 1520,580 1424,632 1456,580 1394,594 1448,584 1389,600 1427,602 1396,532 1517,626 1449,561 1490,619 1401,627 1475,578 1411,602 1441,578 1399,638 1489,637 1504,570 1483,568 1479,566 1518,639 1397,638 1485,547 1507,635 1524,584 1403,629 1400,588 1510,633 1517,625 1491,605 1429,568 1427,574 1432,627 1405,618 1464,623 1503,558 1408,603 1395,568 1415,620 1421,627 1507,629 1420,578 1455,596 1482,638 1487,639 1479,599 1474,613 1494,578 1432,594 1486,621 1509,551 1450,557 1443,595 1392,581 1412,569 1394,605 1386,614 1448,553 1515,609 1468,574 1463,620 1394,572 1452,631 1407,623 1467,587 1445,557 1386,619 1404,628 1398,563 1423,614 1413,626 1510,629 1415,630 1517,612 1491,634 1443,632 1495,640 1460,639 1422,623 1483,592 1474,609 1480,618 1461,596 1442,637 1492,608 1461,639 1495,612 1516,632 1495,629 1467,631 1449,629 1471,618 1478,627 1492,638 1464,632 1415,600 1424,626 1454,631 1445,598 1415,626 1505,594 1429,594 1483,605 1500,637 1414,539 1450,637 1481,639 1399,605 1456,637 1524,634 1474,640 1448,558 1426,638 1427,604 1426,638 1439,612 1415,635 1405,595 1440,632 1416,633 1420,606 1517,619 1396,591 1468,634 1397,639 1524,548 1470,635 1519,627 1473,623 1497,635 1481,603 1519,617 1442,622 1509,624 1465,637 1521,630 1501,602 1390,573 1390,618 1425,615 1439,552 1477,544 1511,611 1488,618 1489,639 1468,625 1453,628 1449,565 1520,636 1425,544 1402,633 1445,612 1438,629 1417,635 1406,599 1453,557 1498,636 1387,603 1524,635 1453,635 1477,596 1495,592 1389,627 1399,618 1408,618 1407,637 1394,599 1509,619 1508,560 1449,782 1493,818 1469,785 1495,793 1407,803 1462,802 1492,791 1492,787 1491,782 1408,802 1522,781 1522,782 1513,792 1443,791 1480,782 1516,788 1435,791 1464,781 1425,800 1424,816 1497,783 1419,792 1440,798 1456,787 1475,792 1417,800 1445,801 1471,797 1499,783 1425,781 1467,789 1411,793 1505,795 1484,783 1443,789 1452,808 1470,790 1516,810 1426,787 1406,796 1435,784 1504,803 1424,781 1466,824 1518,804 1461,807 1507,783 1523,821 1513,823 1456,822 1439,807 1399,796 1484,816 1512,785 1480,784 1462,793 1425,789 1503,787 1398,812 1434,805 1471,783 1408,800 1435,822 1484,781 1408,804 1473,785 1436,783 1433,783 1465,781 1405,785 1481,786 1387,781 1465,782 1513,783 1451,784 1469,802 1476,785 1436,801 1483,783 1400,786 1475,790 1520,792 1448,786 1426,799 1429,783 1487,786 1388,820 1500,828 1483,787 1502,806 1441,794 1434,797 1467,783 1389,792 1454,795 1439,798 1476,790 1454,791 1486,784 1517,806 1499,784 1428,783 1452,786 1445,793 1463,811 1441,785 1457,790 1469,782 1387,813 1466,782 1387,797 1507,782 1517,804 1452,781 1430,808 1506,782 1454,812 1438,793 1403,791 1393,813 1448,782 1418,805 1515,816 1487,781 1482,790 1464,785 1386,802 1453,796 1485,784 1467,817 1446,793 1430,794 1510,786 1448,788 1507,782 1424,793 1430,783 1434,786 1479,815 1413,781 1468,782 1455,785 1430,800 1472,817 1491,792 1424,793 1489,781 1521,815 1450,792 1387,781 1420,797 1403,825 1516,796 1421,827 1420,791 1519,786 1435,825 1487,786 1404,782 1416,790 1487,782 1439,827 1386,815 1453,800 1415,795 1441,783 1476,787 1405,793 1459,782 1392,822 1399,787 1461,793 1519,796 1415,784 1441,782 1525,808 1505,780 1504,783 1414,822 1435,798 1422,786 1502,816 1449,796 1385,781 1497,782 1517,810 1499,815 1486,787 1390,803 1386,822 1426,789 1416,805 1520,818 1475,791 1505,792 1510,795 1506,805 1442,783 1451,781 1450,791 1513,795 1456,790 1514,780 1505,790 1453,785 1452,782 1508,796 1522,801 1426,783 1521,799 1440,813 1424,785 1413,795 1514,787 1408,815 1509,787 1450,784 1444,793 1457,815 1423,818 1480,825 1519,812 1401,826 1508,785 1395,790 1496,785 1412,785 1441,787 1526,785 1410,789 1515,783 1419,785 1469,784 1483,797 1411,788 1525,784 1406,808 1512,788 1431,811 1396,795 1426,819 1464,788 1457,791 1517,781 1471,801 1426,791 1430,787 1408,804 1406,806 1421,792 1400,787 1500,787 1493,803 1522,787 1521,815 1421,783 1400,796 1516,795 1437,800 1516,804 1472,782 1515,798 1391,813 1481,793 1425,785 1440,796 1407,790 1411,783 1441,781 1438,804 1397,783 1440,826 1484,793 1399,781 1521,794 1412,792 1416,786 1494,802 1482,820 1396,791 1480,786 1492,791 1466,781 1513,816 1435,788 1514,793 1468,808 1480,794 1511,811 1514,817 1483,784 1504,780 1516,780 1428,783 1411,803 1452,782 1490,783 1388,783 1467,798 1440,782 1413,783 1448,796 1420,781 1482,787 1485,786 1502,816 1489,784 1404,793 1469,809 1420,804 1424,812 1526,781 1513,795 1389,787 1514,807 1404,822 1520,807 1472,795 1454,780 1465,828 1497,792 1392,817 1408,797 1476,793 1423,793 1462,798 1476,793 1387,803 1490,784 1523,784 1512,782 1406,813 1453,810 1475,801 1493,812 1514,786 1447,807 1437,802 1521,793 1484,788 1501,800 1396,789 1444,808 1434,782 1515,785 1490,794 1447,786 1484,804 1501,792 1400,784 1411,788 1519,783 1475,785 1446,802 1494,803 1522,799 1413,821 1424,789 1516,789 1468,796 1435,788 1452,787 1438,792 1412,826 1413,824 1494,787 1408,798 1503,819 1444,788 1398,785 1487,794 1502,824 1455,780 1443,790 1464,791 1413,800 1408,790 1434,802 1433,783 1436,815 1502,826 1466,790 1415,782 1509,793 1456,791 1414,802 1434,782 1507,797 1400,788 1392,813 1479,804 1477,784 1489,792 1524,782 1429,796 1462,790 1496,782 1511,786 1423,782 1445,787 1428,805 1455,786 1434,782 1430,783 1420,784 1434,781 1446,810 1488,796 1504,802 1494,818 1466,795 1512,782 1523,816 1461,805 1489,791 1395,794 1426,791 1399,791 1516,805 1486,781 1472,783 1506,808 1501,788 1407,815 1402,802 1418,782 1481,798 1510,802 1506,798 1427,811 1471,782 1430,781 1436,820 1426,804 1463,783 1451,795 1518,791 1487,802 1519,786 1510,785 1415,791 1502,793 1465,781 1396,823 1492,789 1476,819 1488,782 1493,798 1464,792 1438,781 1499,812 1459,793 1518,786 1386,785 1421,794 1426,807 1388,822 1433,791 1445,782 1448,784 1402,783 1423,808 1489,791 1423,795 1460,785 1421,786 1505,804 1456,809 1480,815 1419,791 1511,783 1444,808 1435,782 1444,790 1404,787 1475,813 1586,637 1539,638 1554,606 1528,631 1541,637 1574,612 1531,628 1543,622 1530,566 1582,624 1562,588 1549,568 1585,617 1528,553 1549,635 1550,640 1537,620 1532,626 1579,604 1576,588 1554,615 1554,615 1562,636 1575,624 1528,581 1546,638 1553,629 1564,601 1552,609 1594,561 1554,584 1577,624 1547,628 1536,635 1529,638 1566,638 1585,592 1591,580 1571,635 1559,606 1587,589 1595,637 1597,624 1538,633 1586,602 1538,606 1596,613 1550,629 1543,619 1579,592 1545,590 1583,627 1568,623 1591,639 1555,615 1596,564 1568,589 1551,637 1548,792 1550,790 1578,809 1568,806 1575,804 1580,802 1531,795 1548,782 1588,796 1571,819 1550,781 1536,801 1570,783 1533,795 1560,784 1559,799 1539,791 1596,779 1597,782 1563,805 1539,806 1549,790 1577,807 1535,781 1569,784 1539,791 1591,806 1593,796 1562,783 1580,794 1590,790 1557,802 1528,809 1575,784 1589,781 1596,787 1557,787 1530,791 1545,800 1532,781 1561,811 1540,780 1574,798 1596,801 1592,798 1567,806 1569,797 1578,797 1592,795 1549,784 1584,814 1536,817 1562,783 1584,822 1548,824 1569,796 1559,794 1554,783 1587,792 1572,781 1589,790 1556,786 1592,784"/>
<polyline marker-start="url(#mg)" marker-mid="url(#mg)" marker-end="url(#mg)" points="558,876 569,881 583,879 606,867 579,880 571,880 620,839 621,889 659,629 647,654 659,635 659,640 632,785 658,634 670,840 649,863 657,849 660,847 692,523 708,489 713,491 706,482 696,513 692,499 681,542 714,823 715,816 774,511 747,463 775,498 796,493 725,821 788,811 737,817 924,556 880,536 877,519 831,525 907,557 882,540 868,533 890,527 918,533 929,533 854,545 833,536 838,519 885,811 914,814 864,810 855,814 855,809 886,812 913,816 1013,498 1001,454 996,456 996,556 993,514 972,558 965,517 950,562 1019,447 1018,503 1004,535 996,516 963,556 1000,531 1031,543 971,560 930,557 990,465 941,557 934,821 944,815 1006,831 1027,829 944,812 995,823 954,814 965,816 965,817 1006,823 1016,825 959,827 996,831 953,827 1134,562 1203,535 1147,508 1095,545 1061,482 1110,489 1207,542 1154,554 1131,549 1223,518 1216,552 1074,566 1152,550 1088,540 1149,508 1214,555 1133,468 1097,532 1123,508 1182,543 1086,524 1224,542 1134,553 1214,562 1110,561 1123,527 1054,520 1086,556 1213,827 1038,821 1125,821 1173,833 1117,823 1228,829 1082,845 1186,832 1104,837 1176,842 1233,833 1202,844 1074,831 1206,839 1184,830 1210,831 1092,827 1201,823 1034,820 1059,823 1060,820 1087,831 1185,830 1222,823 1213,823 1155,825 1179,837 1199,827 1064,835 1173,829 1121,829 1228,825 1154,841 1053,834 1200,826 1102,827 1235,845 1261,494 1289,505 1265,534 1319,493 1375,514 1281,544 1340,500 1278,545 1252,555 1351,484 1307,493 1316,511 1366,511 1316,419 1384,498 1311,545 1305,534 1303,537 1383,518 1335,538 1298,418 1294,546 1244,835 1250,840 1327,843 1377,841 1356,835 1284,846 1284,844 1306,827 1326,840 1241,849 1287,833 1347,837 1307,848 1257,838 1240,839 1343,834 1299,835 1371,832 1295,833 1290,829 1309,831 1325,834 1360,844 1318,844 1313,832 1322,843 1318,842 1290,837 1321,838 1303,828 1240,824 1248,830 1293,836 1379,835 1285,836 1315,828 1354,834 1318,838 1375,834 1306,844 1378,841 1360,830 1323,831 1326,837 1297,843 1358,830 1369,841 1363,833 1297,840 1365,833 1338,833 1307,834 1295,844 1361,830 1247,825 1259,827 1267,829 1295,839 1326,829 1337,837 1238,843 1268,833 1418,522 1429,472 1500,524 1524,498 1503,432 1521,540 1481,467 1470,500 1482,533 1493,519 1390,491 1505,521 1433,531 1434,525 1393,480 1471,506 1448,528 1399,460 1446,532 1484,521 1496,503 1488,524 1434,528 1400,492 1520,502 1443,509 1392,474 1389,518 1524,523 1439,478 1482,526 1476,521 1487,539 1483,537 1412,521 1487,465 1452,496 1516,840 1451,844 1397,841 1420,834 1449,831 1445,830 1496,833 1435,831 1479,833 1397,847 1416,831 1428,839 1515,844 1446,834 1390,837 1501,839 1493,831 1426,834 1461,833 1518,831 1400,836 1386,831 1445,839 1469,832 1444,833 1396,836 1466,833 1453,840 1394,831 1448,835 1510,840 1422,843 1451,838 1414,834 1508,830 1391,832 1469,835 1473,833 1401,833 1523,840 1479,848 1483,830 1433,840 1503,839 1506,834 1411,838 1487,841 1398,833 1517,839 1429,831 1472,838 1397,849 1421,839 1435,831 1412,838 1504,844 1455,833 1418,831 1507,829 1438,838 1485,846 1428,834 1446,842 1497,845 1416,839 1466,829 1412,838 1396,841 1431,830 1520,846 1438,836 1472,843 1419,840 1466,836 1434,836 1408,842 1457,837 1484,836 1445,834 1432,835 1456,841 1516,839 1519,845 1506,844 1440,836 1484,846 1394,838 1449,830 1479,830 1475,830 1594,545 1578,507 1553,450 1531,537 1568,506 1570,430 1553,482 1565,502 1567,533 1527,840 1558,828 1532,847 1554,834 1583,840 1579,828 1573,839 1533,831"/>
<polyline marker-start="url(#mp)" marker-mid="url(#mp)" marker-end="url(#mp)" points="606,854 581,870 519,871 618,817 609,843 609,850 636,885 620,893 621,893 635,884 609,893 621,892 648,873 824,879 909,837 955,833 1214,863 1155,868 1183,857 1108,850 1211,861 1229,856 1161,885 1175,879 1224,864 1069,866 1166,857 1069,855 1192,857 1195,858 1197,867 1225,855 1190,861 1259,854 1374,879 1368,856 1299,865 1246,853 1308,852 1306,864 1242,874 1295,863 1334,878 1261,854 1331,879 1270,862 1243,850 1468,856 1413,853 1511,867 1407,866 1404,857 1478,876 1519,880 1450,858 1488,865 1392,860 1447,859 1426,852 1508,871 1407,882 1435,872 1414,882 1490,870 1508,870 1505,856 1498,866 1461,881 1444,865 1404,856 1479,853 1406,876 1401,882 1437,879 1449,855 1457,873 1490,885 1411,853 1462,855 1391,865 1498,880 1564,875 1552,851 1584,848 1586,859 1528,873 1555,859 1527,883 1587,857 1536,881 1561,875 1534,867 1552,855 1586,850 798,333 1399,258 1426,258 1435,258 1477,258"/>
<path d="M851.7,646.6 L856.5,647.4 L861.3,648.3 L866.1,649.0 L870.8,649.8 L875.6,650.5 L880.4,651.1 L885.2,651.8 L890.0,652.4 L894.7,653.0 L899.5,653.6 L904.3,654.1 L909.1,654.6 L913.9,655.1 L918.6,655.5 L923.4,655.9 L928.2,656.2 L933.0,656.5 L937.8,656.7 L942.5,656.8 L947.3,657.0 L952.1,657.2 L956.9,657.3 L961.7,657.4 L966.4,657.5 L971.2,657.6 L976.0,657.7 L980.8,657.8 L985.6,657.9 L990.3,657.9 L995.1,657.9 L999.9,657.9 L1004.7,657.9 L1009.5,657.9 L1014.2,657.9 L1019.0,657.9 L1023.8,657.9 L1028.6,657.8 L1033.4,657.9 L1038.1,657.9 L1038.1,771.0 L1033.4,771.0 L1028.6,770.7 L1023.8,770.2 L1019.0,769.8 L1014.2,769.4 L1009.5,769.0 L1004.7,768.5 L999.9,768.1 L995.1,767.7 L990.3,767.2 L985.6,766.8 L980.8,766.3 L976.0,765.9 L971.2,765.4 L966.4,764.9 L961.7,764.4 L956.9,763.9 L952.1,763.4 L947.3,762.9 L942.5,762.3 L937.8,761.8 L933.0,761.3 L928.2,760.8 L923.4,760.9 L918.6,760.9 L913.9,760.9 L909.1,760.9 L904.3,760.9 L899.5,760.9 L894.7,760.8 L890.0,760.7 L885.2,760.6 L880.4,760.6 L875.6,760.5 L870.8,760.4 L866.1,760.2 L861.3,760.1 L856.5,759.9 L851.7,759.7Z" fill="#c95a4d" opacity="0.2"/>
<path d="M1038.1,656.9 L1047.0,657.0 L1055.9,657.1 L1064.8,657.2 L1073.7,657.3 L1082.6,657.4 L1091.5,657.5 L1100.4,657.6 L1109.3,657.7 L1118.2,657.8 L1127.1,657.8 L1136.0,657.9 L1144.9,657.9 L1153.8,658.0 L1162.8,658.1 L1171.7,658.1 L1180.6,658.1 L1189.5,658.2 L1198.4,658.2 L1207.3,658.2 L1216.2,658.2 L1225.1,658.2 L1234.0,658.2 L1242.9,657.8 L1251.8,657.0 L1260.7,656.2 L1269.6,655.4 L1278.5,654.6 L1287.4,653.8 L1296.3,653.0 L1305.2,652.2 L1314.1,651.4 L1323.0,650.6 L1331.9,649.8 L1340.8,648.9 L1349.7,648.1 L1358.6,647.3 L1367.5,646.4 L1376.4,645.6 L1385.3,644.7 L1385.3,726.8 L1376.4,726.8 L1367.5,726.9 L1358.6,726.9 L1349.7,727.0 L1340.8,727.0 L1331.9,727.0 L1323.0,727.1 L1314.1,727.1 L1305.2,727.1 L1296.3,727.1 L1287.4,727.2 L1278.5,727.2 L1269.6,727.2 L1260.7,727.2 L1251.8,727.2 L1242.9,727.2 L1234.0,727.2 L1225.1,727.2 L1216.2,727.2 L1207.3,727.2 L1198.4,727.2 L1189.5,727.2 L1180.6,727.1 L1171.7,727.1 L1162.8,727.1 L1153.8,727.0 L1144.9,727.0 L1136.0,727.0 L1127.1,726.9 L1118.2,726.9 L1109.3,726.8 L1100.4,726.8 L1091.5,726.7 L1082.6,726.6 L1073.7,726.6 L1064.8,726.5 L1055.9,726.4 L1047.0,726.4 L1038.1,726.3Z" fill="#c95a4d" opacity="0.82"/>
<path d="M1038.1,726.3 L1047.0,726.4 L1055.9,726.4 L1064.8,726.5 L1073.7,726.6 L1082.6,726.6 L1091.5,726.7 L1100.4,726.8 L1109.3,726.8 L1118.2,726.9 L1127.1,726.9 L1136.0,727.0 L1144.9,727.0 L1153.8,727.0 L1162.8,727.1 L1171.7,727.1 L1180.6,727.1 L1189.5,727.2 L1198.4,727.2 L1207.3,727.2 L1216.2,727.2 L1225.1,727.2 L1234.0,727.2 L1242.9,727.2 L1251.8,727.2 L1260.7,727.2 L1269.6,727.2 L1278.5,727.2 L1287.4,727.2 L1296.3,727.1 L1305.2,727.1 L1314.1,727.1 L1323.0,727.1 L1331.9,727.0 L1340.8,727.0 L1349.7,727.0 L1358.6,726.9 L1367.5,726.9 L1376.4,726.8 L1385.3,726.8 L1385.3,776.6 L1376.4,776.4 L1367.5,776.2 L1358.6,776.1 L1349.7,775.9 L1340.8,775.7 L1331.9,775.6 L1323.0,775.4 L1314.1,775.2 L1305.2,775.1 L1296.3,774.9 L1287.4,774.7 L1278.5,774.5 L1269.6,774.3 L1260.7,774.1 L1251.8,773.9 L1242.9,773.8 L1234.0,773.6 L1225.1,773.6 L1216.2,773.6 L1207.3,773.6 L1198.4,773.6 L1189.5,773.6 L1180.6,773.6 L1171.7,773.6 L1162.8,773.5 L1153.8,773.5 L1144.9,773.5 L1136.0,773.5 L1127.1,773.4 L1118.2,773.4 L1109.3,773.4 L1100.4,773.3 L1091.5,773.3 L1082.6,773.2 L1073.7,773.2 L1064.8,773.1 L1055.9,773.1 L1047.0,773.0 L1038.1,773.0Z" fill="#c95a4d" opacity="0.95"/>
<polyline marker-start="url(#mr)" marker-mid="url(#mr)" marker-end="url(#mr)" points="580,887 507,892 531,890 557,893 567,891 569,889 555,892 555,889 529,889 517,892 595,891 556,892 567,890 518,889 568,893 516,890 519,890 527,892 596,892 520,893 517,893 542,891 596,891 583,891 514,892 559,889 570,893 595,891 580,889 595,893 553,891 544,888 570,887 558,892 593,892 593,891 543,892 581,892 607,885 507,893 516,890 568,892 569,891 543,893 517,893 555,891 505,891 568,891 569,887 557,893 532,889 610,882 542,893 540,892 582,889 567,889 569,892 580,891 505,890 607,883 570,891 571,890 553,890 558,892 532,892 517,889 529,893 515,892 584,893 595,890 556,890 558,891 517,893 609,890 543,889 584,889 542,892 543,892 594,890 579,888 593,890 607,889 580,891 620,877 619,864 605,891 622,863 634,859 620,880 620,879 633,868 617,874 631,869 621,872 619,860 618,870 634,844 636,847 631,853 622,879 635,829 609,890 606,889 606,882 620,868 620,859 673,668 645,839 645,825 659,777 660,811 634,863 646,770 646,840 648,820 634,854 659,713 647,809 646,813 646,845 645,822 633,826 635,866 633,828 633,861 644,821 646,785 670,755 659,810 660,791 637,846 662,744 647,831 636,849 645,848 634,836 671,699 655,776 649,808 657,779 672,680 658,756 631,847 648,806 646,796 658,818 650,796 647,816 659,704 659,776 632,856 722,623 717,733 682,734 678,656 719,693 685,697 702,665 682,733 692,630 684,732 718,654 717,701 679,721 687,710 680,711 696,724 670,770 679,761 694,731 698,656 711,713 723,726 693,716 705,735 717,658 686,731 707,616 720,610 703,658 671,708 687,769 720,649 669,746 716,715 712,618 668,767 679,737 700,765 675,754 711,621 702,758 716,636 682,691 702,771 673,663 700,757 705,690 695,746 671,691 702,722 693,771 708,627 697,721 678,739 715,732 673,651 717,685 717,685 697,669 705,758 680,680 723,655 719,674 700,621 670,683 687,775 720,694 692,761 671,796 709,761 690,648 679,637 701,773 686,777 690,697 719,694 717,746 709,688 697,661 710,741 674,735 699,620 681,674 709,752 690,651 722,632 681,676 703,749 692,738 693,666 686,699 694,634 715,644 718,650 695,777 679,764 713,763 688,726 698,715 672,772 688,714 706,742 695,644 696,728 673,790 717,631 800,756 754,735 758,691 774,673 811,747 824,677 733,619 732,762 775,731 759,714 755,621 758,626 737,761 790,693 734,671 765,737 825,720 780,703 820,700 734,730 724,714 803,670 770,769 805,674 747,686 749,752 811,727 763,681 766,708 752,648 790,713 742,678 801,747 727,630 818,729 760,761 758,702 737,743 825,687 805,713 764,747 770,626 771,737 731,692 743,668 756,637 725,630 778,686 779,637 808,709 814,663 811,757 773,732 750,676 802,717 740,664 822,763 798,723 761,636 752,678 756,702 747,761 788,719 813,737 740,670 757,671 769,675 757,654 774,642 776,650 801,755 792,716 795,690 735,696 791,753 736,760 727,676 771,663 759,736 794,654 799,712 820,725 768,735 749,673 803,707 770,703 824,674 760,630 819,683 762,651 804,746 725,655 795,675 810,692 753,716 728,645 739,712 796,639 744,760 749,655 774,643 771,667 770,692 754,683 804,695 777,688 762,746 823,733 770,686 821,699 791,722 820,669 733,704 764,766 816,723 726,691 822,690 744,662 731,748 761,755 757,766 787,635 820,707 812,723 781,632 758,699 758,716 770,704 753,707 819,719 784,747 755,684 753,628 814,660 774,679 822,671 820,651 735,757 809,748 824,675 745,667 797,709 820,692 809,750 757,635 760,754 771,727 800,726 778,737 735,771 727,735 736,728 796,738 728,748 817,652 813,682 757,685 757,642 767,720 760,732 784,664 815,674 794,631 774,645 807,761 732,752 817,742 763,738 816,750 818,654 771,721 771,706 753,633 751,717 754,745 814,724 800,729 803,735 817,701 802,666 774,646 799,690 805,758 775,671 741,682 740,694 772,745 823,744 815,651 752,771 785,753 755,703 748,681 820,692 782,753 763,635 736,681 774,750 781,747 788,700 744,744 805,640 762,741 779,743 793,662 760,693 772,644 736,615 755,715 745,637 727,774 781,689 742,631 723,746 725,636 792,640 745,692 790,694 802,745 799,719 795,689 769,696 790,728 763,663 783,708 817,729 798,745 753,762 734,696 810,713 800,715 777,724 775,743 775,696 811,756 783,737 799,672 771,717 726,682 811,751 769,669 812,744 762,654 773,685 795,665 750,725 772,749 799,644 763,763 791,738 799,630 805,693 782,714 822,635 801,683 733,648 881,674 842,719 827,730 898,758 889,750 921,725 854,700 844,717 845,726 853,753 872,701 927,726 899,671 856,716 856,760 896,730 862,765 872,763 929,678 866,687 855,661 898,728 850,762 875,678 924,762 868,655 907,738 855,653 921,660 865,679 849,698 853,722 906,692 892,693 884,761 907,662 883,727 875,756 909,663 884,759 868,760 909,686 844,759 843,749 830,736 854,660 861,727 888,663 895,732 833,761 892,752 888,697 876,690 878,693 855,756 889,747 852,654 923,723 925,748 910,762 851,668 848,728 899,739 928,755 828,661 923,763 832,758 891,671 851,749 882,720 846,726 834,677 886,759 926,742 841,726 890,662 847,701 915,749 858,654 905,767 884,678 856,738 884,757 869,759 906,762 877,702 894,693 867,713 831,729 873,747 909,765 833,641 874,727 832,733 878,729 926,708 850,738 917,721 842,753 875,748 828,636 860,740 849,702 859,687 882,718 853,719 901,672 860,682 920,718 830,728 838,756 888,693 853,644 873,654 927,734 846,743 916,762 861,724 879,713 839,694 899,715 894,752 900,745 902,708 902,686 853,655 894,703 909,741 915,766 894,745 899,726 875,722 907,764 864,650 868,737 861,704 870,658 926,720 826,717 896,709 851,718 915,732 847,746 859,686 920,759 892,742 896,670 845,650 867,763 885,666 894,659 876,715 849,755 836,670 868,659 921,756 826,671 924,689 867,701 854,711 883,669 892,735 917,677 909,692 891,684 836,669 926,734 841,736 865,751 884,746 896,764 927,728 872,732 888,708 867,690 850,731 865,744 831,670 847,671 877,681 891,703 858,720 862,668 909,660 898,655 856,721 873,761 912,725 870,644 896,697 905,664 895,671 867,690 831,683 911,689 927,762 895,746 888,697 851,691 905,729 910,655 893,739 911,722 880,693 881,647 896,669 881,753 928,651 875,694 863,742 833,738 910,660 918,691 839,719 917,676 893,707 920,707 860,734 837,750 898,701 827,744 871,728 910,762 921,656 867,764 887,724 887,695 865,747 901,702 916,653 870,683 872,690 898,711 871,688 877,724 867,733 912,725 866,742 895,751 882,739 827,670 924,735 928,709 883,713 899,765 840,754 852,672 858,656 843,685 919,740 926,673 850,752 911,708 891,734 828,642 827,707 918,675 899,670 873,733 826,726 854,733 837,740 832,670 855,755 878,722 849,740 844,751 888,719 868,714 892,716 916,659 889,739 895,705 916,697 903,698 920,708 917,701 917,650 910,732 848,756 849,700 840,680 891,709 838,703 922,715 895,756 893,694 857,755 876,749 897,706 849,755 918,757 871,726 893,650 916,669 911,684 869,760 900,684 884,712 863,702 896,741 892,750 894,658 843,680 886,733 923,759 875,719 892,691 860,685 852,725 926,739 905,742 910,731 919,723 876,691 875,652 920,704 893,694 900,667 901,706 882,660 887,662 888,693 876,733 872,738 911,696 845,742 848,687 836,661 858,693 843,720 902,670 905,668 923,750 859,664 910,716 862,734 925,763 888,764 830,722 908,670 860,749 919,741 897,715 899,754 879,753 885,658 864,755 908,766 928,739 901,749 829,681 907,738 879,724 826,737 915,662 854,750 841,763 926,679 895,730 839,727 833,667 881,757 826,757 922,739 852,736 876,750 897,743 905,705 919,753 843,646 923,680 828,661 863,761 840,733 844,682 918,724 832,741 889,661 883,731 906,714 887,733 857,675 905,686 882,683 854,642 835,670 868,655 851,648 926,740 903,730 926,678 851,708 923,657 843,702 928,662 857,752 853,724 868,670 887,720 923,702 829,685 881,704 907,700 877,668 835,685 853,733 869,658 848,763 853,659 858,713 889,761 887,648 894,751 898,727 852,647 928,730 839,688 846,669 907,702 857,745 868,736 857,757 916,710 874,747 890,647 845,748 909,738 854,742 855,658 913,738 894,746 907,755 876,670 912,729 838,755 834,727 929,719 906,694 839,706 852,730 895,746 829,723 862,746 861,673 873,691 866,676 879,669 910,736 922,666 869,657 893,760 838,752 834,764 851,697 861,688 912,747 837,642 862,733 892,725 833,706 856,696 873,697 876,722 929,657 827,707 920,663 897,697 860,663 835,737 864,730 899,689 845,652 885,665 920,650 827,726 852,674 871,764 843,672 868,684 898,764 910,659 899,652 851,749 919,766 832,701 885,715 847,735 905,659 904,698 848,692 863,685 837,741 836,697 842,703 842,735 895,687 858,684 861,729 849,659 913,737 893,731 895,738 841,725 864,764 841,677 923,679 829,719 894,675 853,705 854,704 882,660 877,752 914,725 873,677 833,721 914,677 898,681 860,700 828,717 950,718 953,678 955,696 950,733 986,693 1018,690 974,724 1016,678 971,733 979,761 932,692 989,688 1000,736 974,699 966,726 1026,721 950,663 1015,744 930,762 940,724 1004,660 1019,692 954,721 966,725 978,728 1026,712 1029,696 968,731 950,721 1016,684 1020,708 983,738 953,673 946,734 957,699 967,766 954,737 971,661 967,726 1001,695 998,690 1015,694 948,691 976,764 1002,693 998,757 981,663 958,661 950,734 938,758 970,742 1013,707 941,743 996,674 1031,705 1018,769 952,728 973,736 972,720 936,724 1030,776 1010,718 962,721 1023,763 955,761 962,716 971,728 973,661 945,737 995,764 1016,708 941,717 1009,713 1010,774 968,668 958,726 932,752 987,752 942,701 985,714 975,708 1024,728 978,703 932,722 942,727 1020,738 1000,731 986,705 958,680 949,657 965,657 989,735 995,688 970,662 1000,739 958,705 962,708 959,744 1013,714 1027,722 982,713 991,734 984,665 936,685 932,766 963,735 1026,726 936,722 1030,753 993,662 1002,707 944,701 937,734 984,688 995,654 946,673 963,735 961,763 1020,689 971,735 1015,734 961,657 976,768 970,737 930,675 968,748 999,685 1001,692 1016,742 936,742 1029,743 1016,760 1020,773 970,681 971,748 1005,752 1023,768 931,680 963,741 1005,682 1021,743 978,740 979,766 961,768 966,760 1020,658 1030,682 938,754 1006,739 941,725 953,670 974,755 1016,769 957,681 989,763 960,673 1000,722 931,706 950,714 965,712 974,765 971,708 998,686 1005,767 938,722 982,736 935,713 949,656 966,741 971,713 1008,707 1030,738 974,732 973,667 939,733 963,659 1014,690 969,739 1027,667 956,743 983,753 936,653 955,709 995,743 962,723 938,703 1030,688 950,665 942,666 954,656 949,737 987,703 1025,734 1003,706 936,754 1006,743 947,695 1025,683 1023,762 990,673 972,735 1026,669 1020,663 995,737 963,695 995,758 965,671 1029,698 957,726 1021,741 999,681 973,745 1012,743 1028,660 1030,755 993,745 1014,767 974,729 936,672 965,728 947,742 952,734 1029,664 978,738 1024,696 994,756 1000,725 1003,751 980,738 1023,677 1026,671 957,696 1001,656 929,701 967,724 950,678 968,744 964,710 1022,705 951,755 1000,736 1004,679 962,734 965,768 964,717 998,727 964,655 942,670 1032,731 971,766 1006,695 1009,757 1028,767 988,715 946,757 1017,739 963,688 1026,746 945,763 1008,700 989,736 972,725 954,754 978,708 1008,721 993,729 1031,706 1029,734 1003,744 1009,736 979,753 985,731 933,681 974,770 940,696 985,752 960,739 986,687 978,750 988,731 1006,758 970,658 1014,747 1020,752 1021,731 943,688 996,767 1011,703 1020,727 993,691 1031,667 979,765 936,761 958,735 950,705 1028,697 979,771 992,731 997,663 990,664 983,720 1022,768 937,739 984,763 1024,664 941,704 958,749 969,768 995,766 959,732 934,731 963,730 972,720 991,715 1010,724 1019,720 959,722 963,711 998,725 947,714 990,764 977,761 994,742 1006,760 1005,666 933,683 1014,679 964,703 995,665 933,702 935,766 1022,666 964,677 938,657 965,743 938,713 937,697 955,655 1014,737 1006,750 953,697 957,744 999,754 945,657 934,681 1017,761 1001,722 994,669 942,651 946,727 1030,678 1016,726 933,671 983,754 990,711 1030,746 1011,738 949,767 1030,722 962,652 960,735 1028,666 990,729 938,661 1022,754 934,751 992,736 993,760 939,763 993,659 939,663 989,668 995,711 1012,729 982,739 935,656 1004,665 998,708 947,701 958,758 980,755 1027,756 1000,761 1019,702 954,765 974,717 1029,775 994,760 1020,742 981,748 1011,766 936,718 974,655 1031,666 981,741 1008,694 963,705 972,689 1004,772 998,686 974,703 952,727 985,725 957,749 936,753 943,711 985,736 943,682 936,758 1008,726 973,690 944,655 1019,666 936,651 1026,676 968,738 950,681 986,732 1012,761 941,719 963,731 975,678 939,749 948,739 983,737 972,764 1016,768 943,726 1021,744 1010,733 996,679 935,725 970,738 1029,714 1025,685 1026,752 951,736 961,712 933,725 988,680 989,670 988,752 1019,760 963,720 1003,764 938,679 1004,724 962,722 939,723 944,700 1006,754 977,722 948,760 987,760 1013,668 996,707 946,767 1010,718 958,716 1004,687 961,750 943,736 976,692 960,715 1028,707 971,710 971,748 967,758 956,682 971,726 985,712 1018,670 1017,731 945,703 1022,733 940,750 929,731 959,652 976,734 967,758 1022,710 970,667 967,691 987,725 1004,664 954,688 1022,693 972,706 1023,738 1023,675 931,696 974,740 931,671 942,712 1029,717 997,688 1031,751 1032,747 1016,760 966,725 954,745 1017,752 1012,679 979,671 936,766 1014,695 970,711 1011,749 1017,664 1029,775 1004,747 935,665 948,731 1007,754 933,743 1018,707 1023,771 982,769 997,716 929,722 968,764 971,659 1023,727 990,749 948,747 933,673 950,733 973,717 1020,673 1021,726 983,662 946,726 957,664 990,729 961,751 1007,735 1023,715 996,671 1002,691 979,720 965,713 966,747 947,759 997,737 1015,734 999,751 977,758 989,711 1030,682 942,750 1007,746 961,703 974,747 998,726 953,727 944,753 943,664 977,675 998,730 1008,710 980,718 940,754 954,670 969,656 985,753 933,668 996,739 978,713 938,714 974,671 1009,756 977,691 994,764 936,728 993,758 941,712 997,760 966,734 1024,727 987,735 932,674 930,667 934,741 969,702 1017,744 941,768 1021,702 977,718 948,755 1003,757 930,702 955,698 964,663 1027,738 975,752 1001,773 996,691 1024,723 934,714 1008,760 986,670 946,697 999,751 991,685 1016,672 981,752 943,713 984,757 950,715 996,708 952,745 1031,712 1002,733 1018,770 1026,657 947,695 954,672 940,688 949,735 988,760 1025,749 956,669 1007,766 987,755 994,755 1008,744 1006,693 1019,773 1007,768 992,725 1007,760 989,758 984,735 984,751 955,679 940,731 1008,660 952,678 1008,694 997,700 987,716 1022,653 1016,664 935,738 960,727 1018,678 958,766 1011,706 979,726 1018,773 950,665 982,725 951,756 965,747 982,698 966,744 953,657 995,698 977,655 1023,688 961,707 934,739 1001,752 964,680 998,732 934,749 939,726 994,758 939,765 1030,740 1029,761 997,664 995,700 944,652 968,668 937,672 942,759 987,712 984,755 1001,740 991,698 1012,681 1003,664 954,739 992,764 979,683 989,700 1024,734 995,659 979,715 947,739 965,734 993,769 945,708 1001,714 957,675 958,707 968,702 1002,678 965,717 1021,708 1018,712 956,730 1026,687 1008,749 974,652 970,750 1028,716 1021,756 993,765 1001,666 933,724 1009,727 1006,731 1019,747 1026,715 1021,667 950,741 992,743 982,731 1023,735 952,670 982,671 949,757 939,749 1029,695 1025,661 966,652 969,712 1000,736 980,665 966,766 953,745 995,677 1003,767 977,659 987,752 933,718 996,756 1013,724 971,705 1095,745 1041,725 1040,681 1063,776 1158,715 1137,776 1183,731 1136,713 1148,776 1045,715 1078,702 1229,694 1066,712 1149,709 1139,664 1042,653 1066,693 1161,713 1174,743 1158,751 1111,750 1052,732 1184,671 1139,749 1083,767 1135,761 1224,658 1190,743 1146,759 1091,657 1170,710 1146,695 1169,710 1213,720 1200,749 1208,727 1199,743 1151,706 1149,741 1044,706 1161,760 1212,759 1154,762 1232,682 1057,658 1115,736 1137,687 1228,759 1146,672 1112,689 1232,760 1058,746 1161,765 1038,708 1073,732 1051,729 1195,707 1155,740 1078,671 1224,725 1095,673 1172,745 1120,729 1036,667 1138,758 1199,742 1055,714 1222,740 1137,685 1227,684 1135,737 1165,690 1229,729 1234,755 1226,737 1120,745 1066,720 1052,691 1098,674 1158,734 1159,693 1123,754 1221,743 1195,672 1150,673 1055,708 1136,741 1151,777 1180,695 1198,775 1111,704 1193,754 1123,746 1149,721 1115,717 1230,745 1236,704 1214,766 1070,730 1045,726 1052,676 1161,699 1227,723 1165,689 1084,680 1186,717 1233,711 1107,711 1222,667 1142,717 1167,738 1092,762 1168,738 1100,747 1124,777 1214,748 1177,710 1074,774 1187,681 1104,749 1083,721 1106,696 1167,767 1150,716 1153,724 1164,666 1169,774 1059,692 1230,685 1221,678 1174,690 1224,696 1148,669 1042,775 1200,756 1095,759 1061,740 1137,708 1212,730 1190,761 1174,678 1110,761 1098,764 1073,726 1190,709 1183,708 1045,687 1060,728 1097,661 1186,724 1049,763 1162,696 1154,670 1192,738 1076,774 1186,748 1212,747 1172,700 1205,689 1147,736 1172,712 1042,735 1152,700 1214,688 1117,700 1210,679 1087,753 1046,744 1075,654 1226,709 1177,665 1033,704 1126,708 1234,730 1212,654 1098,679 1132,691 1163,668 1186,759 1079,734 1061,734 1058,776 1043,720 1143,750 1040,750 1150,772 1121,735 1125,702 1218,749 1089,661 1122,667 1137,661 1185,656 1125,660 1118,763 1072,753 1043,727 1233,745 1196,761 1080,665 1214,701 1115,658 1141,756 1050,717 1134,777 1217,745 1103,743 1189,732 1197,706 1232,769 1222,670 1108,720 1058,757 1206,673 1087,681 1112,741 1081,770 1065,691 1045,671 1190,707 1087,733 1235,691 1176,756 1208,737 1118,752 1193,745 1138,727 1099,761 1120,750 1108,670 1221,737 1177,773 1033,748 1208,728 1174,738 1057,688 1130,717 1172,763 1117,670 1077,702 1125,657 1079,680 1061,698 1088,733 1164,687 1233,775 1144,702 1191,681 1098,743 1098,689 1228,763 1139,686 1154,741 1087,725 1065,691 1219,751 1179,724 1173,758 1207,768 1041,754 1154,739 1094,755 1229,687 1155,683 1111,715 1154,771 1205,776 1176,690 1049,740 1142,730 1212,694 1077,694 1086,667 1082,756 1105,665 1054,751 1125,698 1035,760 1060,734 1178,716 1090,767 1115,743 1070,728 1195,731 1208,729 1123,701 1110,726 1088,681 1175,757 1216,741 1040,753 1065,774 1156,669 1113,722 1230,671 1038,707 1102,700 1188,733 1197,748 1106,722 1109,655 1164,687 1066,750 1176,695 1179,723 1128,748 1233,771 1038,750 1105,731 1132,656 1193,719 1037,658 1211,746 1131,767 1033,686 1061,728 1232,714 1119,776 1130,771 1234,695 1036,702 1057,739 1059,725 1187,752 1117,744 1129,773 1208,735 1226,742 1197,763 1184,771 1192,713 1057,722 1145,776 1039,733 1209,721 1098,680 1074,774 1128,653 1096,761 1034,675 1041,772 1188,755 1198,700 1176,706 1086,701 1187,766 1205,702 1204,678 1140,761 1169,726 1228,751 1168,696 1153,737 1051,768 1068,766 1069,744 1100,686 1158,731 1195,710 1164,661 1165,743 1120,710 1117,750 1203,708 1039,729 1143,736 1233,738 1060,751 1156,775 1190,674 1124,749 1034,739 1201,763 1184,768 1164,693 1089,695 1119,707 1096,686 1051,715 1177,721 1201,670 1098,688 1046,732 1220,764 1075,752 1117,716 1209,746 1181,750 1131,743 1185,693 1069,730 1179,743 1233,709 1101,755 1178,728 1147,678 1140,727 1096,704 1110,742 1207,698 1121,756 1230,657 1072,728 1208,760 1112,717 1061,742 1038,715 1071,660 1151,732 1174,777 1178,775 1058,761 1181,722 1061,741 1227,669 1130,710 1104,712 1077,746 1160,742 1224,715 1041,722 1161,728 1227,753 1226,735 1192,730 1135,661 1051,736 1164,764 1043,718 1058,717 1224,739 1132,713 1161,756 1234,768 1128,738 1210,654 1035,750 1200,768 1177,775 1056,751 1177,745 1140,750 1220,687 1173,722 1195,745 1052,764 1203,739 1160,701 1116,777 1129,683 1161,682 1167,735 1166,663 1159,767 1076,672 1043,760 1119,733 1163,727 1225,700 1225,745 1233,681 1137,728 1098,722 1165,772 1061,776 1046,739 1219,772 1042,746 1054,674 1151,740 1136,661 1212,693 1092,732 1230,727 1093,741 1111,765 1106,700 1108,752 1222,770 1115,689 1171,767 1096,744 1191,666 1175,711 1096,772 1231,732 1233,731 1169,759 1181,707 1101,731 1089,724 1129,694 1074,732 1190,734 1110,696 1171,716 1175,666 1108,672 1082,773 1214,730 1037,698 1116,765 1194,760 1212,726 1125,745 1055,711 1209,665 1226,773 1084,711 1035,736 1161,690 1121,736 1091,705 1203,728 1206,731 1065,735 1219,777 1136,685 1123,668 1217,758 1152,656 1183,761 1205,720 1236,709 1133,706 1211,755 1035,718 1111,698 1097,748 1218,718 1105,743 1201,739 1071,696 1175,657 1035,734 1237,660 1114,724 1077,658 1231,688 1038,683 1140,772 1065,766 1191,751 1149,688 1215,697 1122,738 1122,745 1208,732 1107,697 1107,667 1216,764 1215,735 1216,709 1194,656 1223,683 1222,752 1152,755 1172,731 1080,722 1073,741 1155,654 1071,702 1076,700 1073,662 1102,684 1130,743 1061,745 1212,713 1070,711 1139,656 1074,742 1131,765 1226,742 1171,729 1054,761 1201,655 1094,703 1104,666 1211,689 1211,692 1082,706 1201,725 1217,689 1178,659 1101,723 1217,662 1126,731 1208,761 1059,766 1075,730 1058,685 1115,693 1213,683 1066,742 1088,687 1123,735 1234,714 1164,710 1135,770 1097,728 1215,772 1075,674 1037,761 1194,672 1148,718 1208,709 1107,733 1065,771 1170,740 1105,703 1087,740 1117,653 1099,742 1196,726 1139,709 1092,675 1144,754 1110,694 1220,717 1049,687 1152,759 1049,701 1055,764 1041,732 1191,730 1138,713 1169,659 1220,746 1218,672 1106,728 1150,707 1148,678 1137,690 1123,677 1179,774 1108,756 1042,739 1119,750 1089,731 1156,659 1224,771 1189,763 1219,676 1069,704 1162,772 1204,716 1041,742 1232,657 1187,756 1214,664 1213,759 1079,686 1097,657 1198,691 1153,753 1181,732 1151,767 1221,672 1089,765 1109,749 1225,731 1142,718 1133,722 1102,708 1123,725 1080,774 1187,668 1200,762 1085,697 1039,738 1228,767 1038,766 1127,694 1145,706 1169,739 1213,679 1103,743 1048,653 1117,751 1217,654 1130,715 1046,678 1106,736 1224,709 1102,699 1197,711 1043,732 1137,741 1056,657 1051,732 1065,757 1098,733 1213,774 1154,769 1152,684 1092,777 1157,743 1034,725 1077,705 1166,764 1186,762 1126,722 1034,733 1210,723 1202,777 1143,751 1086,680 1215,774 1142,691 1224,723 1112,768 1226,767 1199,756 1226,728 1057,758 1061,730 1142,708 1081,701 1052,741 1189,771 1184,731 1232,753 1170,695 1057,750 1059,754 1187,761 1123,724 1160,702 1215,767 1071,733 1221,776 1234,741 1221,705 1149,696 1060,660 1221,762 1185,662 1059,719 1116,677 1069,753 1174,765 1130,738 1135,657 1223,727 1113,749 1101,745 1115,686 1049,749 1105,771 1066,655 1209,703 1200,719 1149,754 1189,746 1099,738 1212,769 1163,677 1134,720 1086,718 1205,777 1147,730 1056,753 1148,767 1178,690 1204,775 1139,728 1137,773 1214,718 1110,734 1191,771 1102,723 1138,751 1139,764 1096,762 1094,679 1136,733 1189,747 1094,776 1057,747 1089,759 1107,664 1167,717 1111,768 1075,727 1218,737 1102,715 1172,727 1077,760 1035,757 1163,765 1101,747 1044,742 1162,693 1146,740 1169,670 1079,724 1155,687 1096,664 1222,658 1136,773 1070,662 1139,768 1237,730 1217,717 1108,718 1163,739 1109,740 1133,732 1142,672 1075,745 1223,693 1054,698 1215,767 1207,706 1203,754 1115,726 1058,717 1079,764 1182,773 1079,746 1225,711 1190,762 1193,685 1142,745 1082,691 1234,762 1128,659 1124,671 1073,684 1203,682 1060,755 1138,690 1229,695 1062,723 1219,659 1060,755 1168,730 1184,707 1206,774 1209,709 1074,676 1198,694 1203,746 1227,706 1134,700 1134,685 1152,738 1040,743 1155,704 1086,681 1080,695 1175,723 1138,653 1151,682 1049,724 1155,658 1071,772 1138,701 1186,703 1044,714 1221,713 1088,721 1043,731 1205,773 1068,755 1226,685 1158,685 1181,769 1037,741 1189,702 1115,756 1199,708 1183,666 1096,729 1220,699 1112,690 1140,776 1196,736 1075,721 1193,709 1111,704 1084,715 1037,762 1190,658 1203,708 1195,688 1210,773 1120,703 1087,762 1233,703 1049,750 1080,749 1200,692 1123,718 1081,688 1185,731 1232,671 1100,760 1036,728 1133,686 1069,764 1154,745 1169,660 1051,727 1208,678 1053,736 1046,754 1206,731 1052,768 1069,728 1190,745 1110,694 1135,726 1140,721 1084,664 1091,727 1168,764 1189,695 1217,693 1182,695 1039,734 1085,676 1114,766 1222,738 1098,713 1128,751 1066,775 1129,675 1143,756 1211,682 1155,737 1152,673 1048,657 1183,706 1121,718 1231,674 1179,741 1077,777 1112,692 1071,674 1082,681 1064,655 1210,754 1135,711 1055,747 1067,687 1061,712 1197,751 1078,726 1099,721 1151,724 1062,661 1043,739 1112,757 1090,654 1210,691 1126,656 1079,719 1225,758 1140,744 1215,769 1175,759 1191,760 1098,714 1208,727 1155,773 1225,735 1138,758 1105,662 1192,745 1083,758 1169,720 1190,743 1211,687 1104,736 1110,687 1074,736 1233,720 1087,747 1167,699 1146,771 1149,720 1162,749 1180,671 1091,660 1151,730 1222,674 1151,707 1130,750 1037,742 1180,776 1069,751 1166,718 1151,746 1228,728 1224,713 1147,733 1093,721 1120,751 1041,696 1224,683 1132,756 1236,743 1118,744 1222,658 1063,747 1078,729 1073,751 1101,716 1079,725 1074,662 1210,737 1057,760 1082,659 1200,750 1071,732 1056,710 1065,677 1170,665 1200,737 1182,761 1218,667 1208,746 1143,674 1145,761 1053,719 1048,732 1109,738 1219,745 1152,776 1174,724 1164,760 1103,755 1110,725 1178,665 1098,671 1110,754 1225,724 1034,749 1183,776 1198,715 1111,703 1179,768 1072,679 1183,772 1101,702 1098,679 1137,770 1150,767 1140,749 1111,755 1108,752 1055,750 1223,732 1086,736 1201,775 1104,755 1172,743 1079,733 1145,769 1174,655 1125,723 1061,688 1110,668 1048,669 1202,752 1064,675 1192,772 1148,772 1066,653 1093,698 1206,694 1127,697 1212,711 1157,764 1102,702 1203,700 1193,733 1110,728 1189,674 1066,769 1045,731 1034,750 1039,750 1236,771 1139,763 1088,740 1118,718 1135,766 1064,740 1074,679 1222,708 1186,701 1197,658 1088,768 1204,758 1042,682 1088,753 1169,742 1160,670 1199,760 1147,670 1059,731 1185,757 1067,680 1122,731 1105,674 1113,764 1039,766 1220,721 1123,732 1237,728 1185,716 1168,757 1084,723 1066,704 1046,735 1048,696 1160,717 1037,652 1192,773 1077,746 1106,753 1160,658 1167,764 1220,710 1232,771 1100,747 1197,751 1117,718 1046,758 1049,738 1204,726 1169,763 1229,708 1191,715 1102,677 1191,759 1186,739 1089,770 1168,758 1095,738 1052,668 1060,711 1193,740 1229,679 1169,666 1216,707 1224,744 1065,696 1199,751 1218,770 1045,664 1183,719 1046,662 1071,666 1070,673 1208,729 1100,742 1184,685 1065,669 1161,744 1170,744 1041,670 1093,736 1154,690 1109,763 1176,725 1202,702 1194,762 1055,729 1039,772 1163,758 1049,764 1133,749 1053,736 1074,703 1114,716 1125,693 1054,719 1206,777 1197,745 1152,777 1101,774 1228,756 1237,672 1048,692 1183,668 1150,725 1114,776 1188,662 1064,679 1101,697 1218,722 1105,752 1228,766 1186,699 1126,721 1055,721 1113,655 1115,680 1179,738 1097,757 1160,777 1033,657 1035,672 1047,772 1142,720 1116,680 1087,671 1183,736 1102,750 1198,661 1077,766 1235,663 1156,739 1212,654 1148,735 1171,667 1185,671 1162,681 1175,678 1194,768 1054,774 1131,737 1040,718 1059,654 1139,751 1127,722 1212,754 1215,740 1210,731 1203,666 1202,732 1183,665 1055,775 1138,756 1216,666 1103,663 1057,678 1182,678 1105,709 1065,696 1111,745 1071,757 1228,685 1099,739 1223,673 1165,736 1237,722 1172,682 1179,720 1059,763 1221,721 1161,762 1133,675 1208,677 1190,744 1113,716 1185,661 1097,743 1187,713 1074,719 1210,766 1033,765 1205,736 1093,715 1037,744 1157,665 1186,714 1185,726 1056,671 1193,741 1193,730 1071,753 1113,738 1152,654 1201,655 1171,758 1176,765 1081,659 1184,750 1227,717 1097,760 1155,717 1035,715 1137,655 1221,735 1097,680 1111,741 1207,681 1105,737 1065,701 1183,666 1152,750 1040,735 1049,716 1159,707 1117,739 1094,706 1093,776 1113,732 1131,731 1237,693 1226,737 1125,748 1225,655 1160,760 1086,712 1198,718 1215,657 1123,765 1138,767 1215,733 1067,690 1227,747 1055,714 1126,658 1113,729 1103,748 1048,688 1228,721 1188,743 1112,680 1210,661 1118,710 1050,710 1122,666 1106,738 1130,662 1104,753 1132,668 1129,720 1135,739 1080,760 1061,729 1205,733 1236,735 1166,718 1074,679 1149,741 1131,701 1152,760 1055,683 1188,744 1126,691 1094,755 1067,676 1180,751 1046,655 1183,698 1072,762 1222,746 1219,675 1077,684 1092,751 1223,754 1136,703 1216,765 1117,670 1118,730 1104,773 1073,759 1073,658 1171,746 1050,681 1089,764 1036,660 1185,736 1213,746 1172,662 1048,675 1118,768 1172,697 1100,726 1085,752 1100,715 1047,683 1223,743 1147,722 1045,754 1064,733 1137,728 1087,759 1172,730 1044,733 1106,729 1208,745 1081,767 1073,692 1198,699 1230,766 1170,747 1166,733 1087,668 1098,691 1229,715 1210,703 1226,726 1218,752 1086,734 1119,699 1033,695 1234,691 1063,711 1232,682 1203,761 1069,751 1140,728 1180,759 1072,737 1098,773 1086,665 1142,702 1162,741 1071,740 1082,711 1059,714 1165,703 1227,662 1079,730 1227,760 1073,766 1166,739 1192,692 1113,710 1214,694 1131,722 1122,710 1084,682 1233,700 1175,719 1165,727 1099,729 1215,768 1147,771 1067,687 1130,743 1233,756 1038,707 1236,693 1182,764 1106,712 1145,746 1221,713 1155,765 1147,694 1070,671 1230,738 1119,768 1044,685 1072,712 1143,763 1148,751 1195,760 1217,725 1141,661 1095,760 1081,698 1073,695 1069,756 1128,736 1150,769 1054,675 1153,667 1216,738 1230,704 1058,760 1046,658 1047,753 1135,742 1160,754 1140,735 1100,754 1056,745 1082,659 1182,715 1207,691 1169,760 1054,772 1087,723 1203,749 1095,715 1121,690 1053,756 1150,729 1152,682 1225,716 1104,768 1183,736 1135,720 1220,756 1083,741 1165,685 1147,754 1193,689 1098,775 1082,730 1145,733 1182,777 1116,755 1196,758 1104,765 1200,748 1049,681 1113,751 1114,666 1088,731 1230,693 1199,682 1116,733 1071,759 1150,693 1045,741 1229,724 1034,709 1227,744 1085,719 1184,671 1113,756 1054,770 1054,766 1156,729 1078,769 1076,742 1070,759 1046,727 1051,724 1139,739 1175,721 1134,673 1215,670 1149,766 1218,769 1188,731 1197,744 1122,706 1179,773 1084,674 1229,701 1043,660 1233,666 1076,772 1104,763 1061,685 1085,716 1193,689 1162,681 1125,691 1134,775 1042,760 1130,677 1143,681 1157,703 1216,691 1163,714 1098,732 1189,766 1081,769 1122,746 1184,764 1231,754 1084,774 1234,680 1036,701 1052,750 1111,743 1083,725 1180,746 1200,713 1039,696 1100,723 1037,746 1193,744 1126,733 1197,711 1128,768 1201,716 1101,696 1125,743 1081,729 1040,735 1064,687 1081,757 1115,764 1060,719 1178,696 1051,763 1168,744 1071,699 1218,714 1140,707 1186,707 1090,669 1227,739 1082,761 1200,714 1102,668 1050,719 1197,767 1097,771 1036,764 1121,764 1069,774 1084,752 1137,773 1084,666 1123,749 1212,761 1190,688 1156,716 1046,671 1082,730 1103,656 1066,751 1087,718 1157,748 1195,759 1186,717 1140,717 1175,680 1071,720 1218,741 1042,670 1217,660 1073,718 1036,671 1130,731 1186,706 1224,762 1165,683 1120,759 1215,768 1051,701 1226,754 1201,732 1129,766 1044,751 1091,657 1216,683 1046,730 1179,717 1061,736 1128,693 1200,677 1105,668 1102,775 1180,684 1186,657 1078,690 1129,694 1088,750 1140,657 1084,765 1139,682 1179,710 1069,683 1237,659 1111,731 1097,772 1197,741 1234,767 1114,756 1178,699 1052,687 1091,697 1188,672 1112,741 1050,750 1195,765 1110,712 1128,769 1237,754 1091,740 1211,700 1078,672 1073,724 1219,744 1221,710 1146,661 1231,697 1119,777 1044,757 1129,665 1058,720 1113,768 1061,677 1067,663 1037,755 1113,700 1216,734 1147,661 1065,725 1086,756 1221,696 1053,731 1222,690 1107,663 1188,669 1110,712 1119,715 1176,682 1140,771 1178,760 1138,767 1064,697 1221,711 1237,753 1066,704 1071,751 1136,750 1081,762 1219,719 1230,717 1177,774 1154,725 1183,732 1185,735 1156,684 1056,740 1164,715 1229,657 1209,754 1038,759 1152,749 1110,750 1156,714 1069,777 1232,765 1056,657 1093,697 1190,729 1163,767 1221,769 1115,753 1123,677 1063,761 1073,666 1119,745 1236,655 1111,715 1193,671 1134,756 1227,737 1222,768 1155,726 1199,748 1137,737 1036,653 1075,728 1170,750 1032,756 1203,767 1044,751 1211,731 1116,755 1225,685 1133,679 1181,720 1132,768 1168,657 1129,685 1051,750 1183,766 1195,745 1038,681 1097,741 1177,696 1197,730 1197,728 1199,680 1235,674 1054,742 1147,736 1093,699 1048,674 1177,681 1171,708 1079,733 1145,692 1188,706 1131,679 1061,774 1058,703 1103,690 1197,671 1186,771 1156,775 1207,740 1156,762 1114,742 1058,772 1119,728 1228,685 1059,686 1170,761 1157,739 1108,733 1094,724 1125,688 1114,664 1040,725 1194,658 1097,677 1227,744 1172,688 1165,681 1095,730 1139,757 1225,764 1197,751 1194,770 1033,694 1179,701 1036,774 1158,683 1108,723 1179,667 1033,742 1104,715 1074,772 1061,654 1173,745 1190,763 1130,702 1061,701 1208,688 1201,702 1108,772 1033,726 1094,708 1117,693 1083,712 1118,728 1237,671 1091,670 1148,701 1210,740 1080,732 1079,762 1037,699 1184,712 1205,682 1090,734 1212,679 1186,690 1056,751 1216,717 1115,727 1039,753 1180,714 1169,696 1075,745 1175,685 1092,706 1045,753 1207,700 1234,723 1196,677 1140,751 1171,655 1075,759 1131,721 1195,664 1214,708 1178,729 1202,757 1215,736 1226,755 1054,763 1108,657 1079,747 1175,732 1085,699 1061,765 1151,713 1154,774 1223,678 1138,759 1092,699 1080,743 1040,776 1145,661 1161,748 1190,753 1100,772 1050,720 1211,745 1232,747 1108,755 1205,740 1207,714 1118,704 1037,759 1085,745 1200,712 1191,761 1045,658 1232,694 1127,722 1084,747 1074,681 1205,674 1036,681 1051,693 1037,762 1194,740 1175,757 1186,660 1127,691 1232,731 1088,775 1143,727 1063,737 1142,755 1189,741 1152,730 1230,776 1209,722 1208,661 1233,757 1122,757 1051,742 1060,664 1184,668 1147,720 1172,692 1081,729 1089,768 1182,700 1135,735 1194,667 1055,701 1169,669 1234,728 1051,745 1137,761 1140,722 1055,699 1227,692 1158,777 1167,761 1121,768 1076,741 1057,684 1274,770 1282,719 1316,704 1371,742 1349,668 1357,711 1270,762 1381,693 1353,751 1257,737 1344,767 1351,685 1249,740 1255,707 1257,699 1289,715 1328,746 1266,732 1294,672 1317,760 1333,726 1332,771 1384,754 1339,646 1382,738 1321,768 1333,766 1334,669 1307,732 1310,691 1383,773 1361,668 1347,739 1293,740 1312,722 1248,696 1373,742 1354,776 1341,761 1249,729 1331,745 1263,734 1294,729 1376,745 1359,763 1299,713 1356,778 1329,712 1244,687 1319,745 1373,709 1298,715 1322,728 1282,703 1262,701 1243,676 1271,747 1322,732 1241,657 1290,682 1238,759 1372,761 1251,713 1282,700 1260,725 1382,701 1339,761 1284,747 1349,651 1298,660 1247,777 1310,719 1304,737 1339,685 1355,674 1289,768 1368,741 1252,717 1343,666 1245,746 1261,764 1246,721 1378,689 1326,776 1297,663 1346,768 1375,681 1276,728 1297,722 1286,720 1351,691 1356,739 1349,648 1374,720 1364,768 1313,744 1351,651 1287,697 1257,758 1273,664 1338,777 1253,729 1366,746 1325,759 1340,669 1348,685 1298,774 1243,762 1302,680 1350,683 1348,660 1318,661 1242,753 1238,719 1333,744 1333,771 1273,698 1361,660 1251,748 1360,685 1340,725 1295,711 1262,664 1329,655 1239,766 1307,743 1258,674 1282,666 1366,700 1314,658 1316,727 1377,646 1369,709 1344,722 1242,765 1333,731 1346,763 1313,702 1273,765 1372,730 1348,675 1302,735 1370,655 1372,734 1297,741 1249,756 1313,688 1357,651 1267,671 1265,739 1250,728 1254,763 1312,735 1356,656 1258,731 1262,688 1321,705 1380,695 1363,756 1261,652 1321,652 1358,738 1297,740 1380,686 1351,678 1326,715 1242,682 1248,735 1359,727 1336,653 1295,750 1310,674 1242,759 1346,670 1314,753 1369,755 1383,744 1365,664 1319,729 1281,755 1269,751 1322,725 1371,778 1311,724 1320,775 1293,710 1376,753 1373,753 1352,765 1287,735 1244,764 1270,749 1336,768 1334,714 1322,756 1296,655 1338,728 1316,731 1269,682 1366,743 1363,769 1323,695 1277,723 1351,742 1343,722 1356,754 1333,741 1246,740 1347,698 1371,707 1340,657 1256,669 1261,714 1302,750 1344,685 1270,706 1295,732 1276,744 1241,727 1293,775 1369,757 1380,702 1334,769 1256,683 1250,771 1241,762 1301,667 1290,733 1350,775 1382,658 1273,668 1370,711 1308,749 1244,775 1261,776 1299,758 1382,741 1342,700 1238,715 1336,746 1328,703 1328,764 1319,779 1375,665 1253,754 1248,681 1338,693 1357,766 1293,678 1252,760 1351,701 1273,681 1305,756 1355,768 1269,724 1297,704 1293,664 1296,695 1292,675 1299,757 1379,724 1265,736 1325,659 1294,658 1341,774 1357,651 1267,741 1281,727 1362,676 1259,726 1309,672 1301,755 1259,666 1384,702 1364,729 1261,733 1316,752 1305,752 1361,657 1262,687 1338,663 1309,744 1290,759 1351,678 1275,746 1374,730 1332,703 1268,770 1303,703 1357,749 1304,707 1296,715 1291,707 1334,737 1341,649 1274,654 1289,694 1362,691 1334,653 1343,744 1381,726 1325,734 1362,701 1343,715 1301,705 1324,694 1309,712 1244,758 1238,770 1244,742 1259,741 1363,739 1366,727 1368,727 1315,770 1369,732 1288,681 1277,741 1306,768 1243,705 1331,763 1261,663 1284,728 1326,675 1250,760 1330,664 1302,746 1239,670 1332,725 1263,741 1274,728 1359,661 1280,734 1278,760 1263,777 1327,674 1324,770 1376,708 1257,777 1349,734 1282,702 1252,723 1303,723 1349,776 1356,760 1316,703 1240,742 1346,767 1312,772 1273,756 1327,693 1312,777 1245,750 1333,768 1298,686 1381,693 1312,734 1326,773 1289,739 1295,707 1295,697 1280,703 1337,778 1258,731 1271,692 1239,682 1333,679 1301,755 1315,740 1305,763 1244,709 1381,725 1374,702 1365,724 1299,734 1277,726 1339,711 1303,731 1380,735 1264,731 1262,771 1328,732 1278,685 1238,654 1251,753 1310,698 1289,778 1285,652 1309,668 1332,734 1356,679 1265,682 1348,761 1332,741 1373,729 1308,716 1340,774 1367,736 1322,670 1339,707 1270,708 1308,716 1356,709 1339,676 1249,745 1360,658 1242,654 1248,745 1309,702 1383,716 1350,685 1353,720 1345,761 1375,711 1287,775 1277,765 1271,747 1259,739 1317,736 1319,735 1327,654 1364,739 1259,690 1324,668 1309,746 1306,747 1353,732 1371,733 1286,732 1297,688 1309,768 1277,776 1256,734 1275,727 1309,723 1316,713 1377,683 1253,755 1281,758 1309,720 1350,722 1330,773 1270,735 1266,686 1316,751 1291,714 1344,690 1251,744 1354,689 1367,737 1252,777 1297,761 1382,720 1252,737 1324,773 1300,656 1328,766 1336,727 1359,723 1347,764 1263,704 1282,763 1279,705 1276,767 1343,776 1380,745 1348,740 1289,657 1355,693 1280,696 1377,680 1348,729 1289,735 1304,737 1310,732 1280,723 1356,758 1276,734 1267,655 1286,697 1272,740 1244,762 1264,716 1370,729 1270,682 1360,776 1322,773 1347,660 1330,725 1350,663 1353,657 1320,775 1241,669 1315,689 1289,720 1327,745 1284,758 1382,737 1341,715 1332,710 1381,667 1342,770 1267,668 1288,690 1339,768 1289,774 1324,755 1282,673 1259,702 1369,740 1302,707 1338,705 1372,681 1384,694 1356,758 1343,723 1256,735 1340,655 1351,779 1333,779 1251,674 1324,675 1335,723 1383,731 1355,745 1355,671 1382,740 1296,748 1384,748 1341,702 1243,716 1309,723 1261,684 1277,655 1298,691 1374,690 1357,743 1293,677 1362,729 1354,745 1279,733 1354,684 1341,766 1249,776 1243,663 1316,667 1383,653 1329,729 1381,733 1358,725 1315,756 1246,747 1320,649 1317,776 1325,737 1266,760 1378,713 1299,754 1284,763 1253,748 1367,766 1245,730 1290,692 1269,672 1352,764 1290,723 1323,752 1306,745 1271,727 1316,709 1376,754 1253,747 1252,731 1363,705 1275,714 1327,685 1367,754 1301,709 1299,754 1281,695 1304,686 1347,764 1315,731 1323,764 1379,673 1354,708 1303,737 1354,754 1314,733 1247,731 1275,655 1312,703 1265,715 1362,732 1363,724 1349,752 1299,777 1311,754 1273,766 1256,719 1243,693 1323,662 1264,764 1245,720 1328,739 1337,664 1346,722 1328,683 1336,666 1297,752 1343,687 1307,680 1241,671 1364,765 1381,747 1337,678 1286,733 1261,754 1329,729 1326,713 1360,760 1299,727 1366,689 1281,681 1303,736 1256,736 1283,728 1314,652 1315,759 1356,725 1325,712 1344,779 1377,697 1348,660 1334,656 1306,664 1373,646 1262,750 1366,732 1305,746 1263,724 1264,769 1357,675 1304,743 1281,761 1331,741 1302,770 1252,759 1334,650 1321,731 1312,697 1286,733 1303,675 1274,709 1376,712 1367,665 1249,685 1262,702 1330,722 1295,768 1321,653 1284,765 1335,737 1321,650 1315,651 1364,648 1372,693 1295,759 1297,757 1311,708 1293,744 1275,675 1292,772 1335,706 1330,735 1299,719 1340,696 1362,710 1245,690 1285,736 1257,729 1319,652 1369,647 1320,770 1304,703 1328,674 1346,758 1285,745 1333,708 1334,660 1359,739 1288,671 1379,721 1302,737 1268,704 1277,732 1251,657 1266,712 1250,706 1280,735 1372,768 1256,746 1286,748 1281,684 1273,742 1256,667 1370,664 1298,707 1286,719 1359,712 1298,670 1261,671 1358,699 1341,675 1276,722 1332,721 1276,701 1379,771 1356,735 1311,776 1328,701 1265,767 1296,655 1368,765 1384,717 1361,740 1326,716 1381,735 1334,753 1312,728 1380,750 1279,682 1266,731 1295,727 1340,746 1273,732 1363,761 1283,754 1329,748 1301,724 1292,761 1293,740 1299,698 1258,734 1304,773 1335,712 1279,678 1351,692 1349,732 1322,771 1272,777 1376,733 1302,771 1360,700 1341,695 1364,656 1246,703 1338,648 1326,710 1365,725 1274,713 1310,749 1320,702 1334,650 1299,737 1338,778 1263,774 1311,774 1281,704 1357,672 1238,672 1269,773 1264,670 1328,736 1315,753 1332,744 1314,707 1249,743 1343,680 1347,750 1383,665 1255,727 1247,763 1243,720 1362,658 1326,733 1344,677 1260,668 1249,708 1269,771 1360,676 1322,757 1374,728 1348,767 1287,690 1271,753 1340,664 1255,698 1382,775 1277,771 1364,752 1275,771 1344,757 1252,698 1369,647 1308,761 1239,688 1383,738 1281,702 1291,729 1301,726 1363,674 1352,721 1242,749 1260,757 1368,680 1349,689 1245,710 1303,721 1325,739 1315,667 1316,729 1240,719 1285,667 1281,756 1341,715 1366,668 1303,719 1259,675 1379,643 1254,685 1333,655 1385,704 1331,687 1365,732 1286,775 1283,668 1270,698 1250,770 1287,733 1291,720 1278,726 1332,741 1302,720 1378,750 1359,777 1328,754 1320,770 1256,762 1385,670 1292,728 1359,689 1261,763 1365,774 1334,722 1348,670 1302,743 1251,741 1296,739 1376,664 1364,736 1253,763 1353,757 1377,756 1352,643 1311,761 1364,665 1360,693 1368,660 1369,702 1265,663 1279,679 1279,656 1384,768 1293,665 1315,703 1345,661 1270,718 1253,654 1334,717 1357,739 1308,777 1378,753 1299,706 1359,674 1382,742 1272,737 1343,755 1283,765 1298,698 1244,711 1261,734 1251,662 1249,774 1313,728 1349,757 1385,703 1339,652 1261,673 1366,769 1298,687 1263,754 1285,721 1290,778 1266,707 1307,743 1373,707 1275,750 1289,700 1356,777 1267,715 1248,740 1361,719 1278,777 1332,752 1374,780 1362,770 1370,731 1302,761 1296,744 1295,760 1322,684 1290,754 1253,774 1330,685 1262,716 1373,755 1281,674 1273,771 1261,776 1249,740 1330,739 1248,714 1342,680 1254,671 1360,756 1246,755 1270,733 1316,660 1297,749 1352,729 1284,767 1247,765 1270,707 1347,652 1360,779 1285,677 1358,735 1243,746 1272,752 1328,771 1264,681 1239,660 1295,759 1254,764 1240,732 1308,692 1384,659 1367,727 1276,723 1360,707 1249,689 1372,732 1360,739 1268,670 1384,747 1291,710 1342,744 1342,736 1295,764 1247,671 1350,697 1338,767 1268,704 1361,668 1302,680 1261,663 1370,698 1327,756 1277,741 1366,740 1327,738 1380,686 1289,721 1376,767 1385,758 1241,765 1316,758 1345,744 1249,721 1294,767 1313,748 1320,777 1279,745 1304,716 1271,755 1261,765 1350,757 1259,679 1336,662 1271,723 1375,756 1334,656 1382,709 1363,736 1381,745 1330,744 1324,660 1271,723 1326,702 1350,743 1310,709 1373,662 1347,767 1257,704 1270,706 1380,661 1348,751 1313,657 1293,771 1322,657 1252,740 1341,655 1307,665 1288,663 1250,714 1297,730 1383,694 1354,733 1340,721 1385,669 1348,706 1295,769 1334,704 1290,694 1297,670 1367,734 1323,657 1313,664 1337,658 1246,778 1303,746 1308,767 1299,742 1354,659 1277,735 1248,722 1258,671 1292,697 1300,703 1308,757 1377,762 1292,695 1278,737 1327,715 1246,719 1266,717 1239,675 1300,761 1327,770 1249,727 1304,752 1364,729 1250,775 1261,761 1258,665 1365,777 1353,746 1302,712 1282,654 1329,733 1330,653 1240,752 1245,708 1281,665 1266,733 1367,751 1364,716 1346,771 1319,747 1298,779 1286,665 1280,686 1281,682 1296,705 1299,675 1245,706 1373,721 1286,750 1367,662 1343,736 1254,774 1313,769 1323,725 1337,756 1350,709 1378,706 1268,749 1322,680 1253,689 1327,723 1341,778 1288,729 1339,679 1331,751 1309,709 1357,743 1317,707 1355,758 1366,651 1253,720 1275,730 1372,643 1343,712 1358,731 1277,684 1369,725 1376,728 1279,651 1242,757 1297,677 1283,667 1285,743 1338,685 1303,757 1334,658 1359,760 1277,687 1303,659 1343,650 1322,658 1253,654 1255,654 1284,735 1368,687 1376,762 1308,763 1261,767 1337,698 1269,699 1356,735 1357,743 1324,715 1277,736 1278,747 1268,778 1312,770 1260,697 1358,759 1370,718 1309,760 1365,719 1289,741 1345,741 1320,660 1356,711 1362,772 1292,687 1378,762 1242,716 1249,708 1311,753 1290,691 1370,775 1369,753 1270,755 1297,715 1339,766 1254,771 1242,730 1345,742 1289,670 1241,776 1361,677 1357,694 1355,698 1362,776 1366,649 1274,755 1337,738 1366,666 1238,771 1276,750 1375,721 1296,709 1352,717 1265,749 1267,720 1308,699 1375,666 1285,703 1269,760 1277,752 1355,776 1339,701 1296,771 1270,747 1337,748 1321,674 1360,773 1312,682 1285,740 1333,677 1326,729 1304,748 1281,760 1303,761 1385,778 1346,726 1346,656 1368,754 1331,749 1297,727 1366,718 1351,674 1273,754 1271,763 1363,649 1359,679 1315,738 1374,755 1378,684 1331,743 1325,670 1291,684 1265,771 1340,733 1322,699 1343,752 1265,748 1363,744 1359,763 1246,665 1241,773 1362,717 1293,682 1335,769 1285,715 1359,719 1339,775 1357,774 1239,739 1251,741 1259,768 1285,777 1316,705 1262,700 1280,709 1364,748 1255,678 1382,730 1289,686 1296,707 1251,743 1248,724 1367,648 1381,661 1269,776 1306,677 1327,686 1313,700 1374,747 1321,772 1304,734 1345,728 1333,653 1319,670 1278,687 1356,768 1342,711 1288,728 1249,728 1319,752 1347,668 1329,740 1328,770 1249,762 1318,765 1319,772 1357,697 1374,735 1357,646 1335,742 1368,721 1349,775 1257,759 1284,745 1365,748 1312,691 1341,725 1338,657 1241,741 1358,718 1333,663 1319,761 1304,730 1252,691 1370,707 1251,771 1319,662 1286,767 1287,722 1373,658 1376,717 1339,694 1286,764 1329,764 1264,716 1266,718 1374,647 1355,753 1355,660 1301,752 1382,759 1272,730 1241,655 1276,705 1350,731 1299,715 1259,701 1327,757 1300,719 1258,736 1307,708 1348,753 1330,768 1238,670 1385,770 1265,656 1273,681 1314,738 1263,669 1334,740 1267,767 1280,668 1356,707 1350,745 1356,748 1311,697 1254,730 1239,733 1285,731 1323,682 1334,654 1332,682 1245,661 1246,723 1370,682 1306,729 1240,735 1302,742 1269,767 1384,757 1268,754 1300,734 1375,648 1353,740 1341,652 1291,729 1357,757 1329,758 1378,749 1374,762 1373,713 1327,716 1277,664 1255,688 1276,690 1299,677 1262,658 1291,745 1273,722 1280,665 1363,751 1248,751 1357,724 1314,656 1245,718 1320,648 1334,745 1288,725 1340,758 1283,678 1361,695 1276,672 1317,757 1264,678 1290,759 1353,751 1312,713 1361,756 1354,680 1362,773 1256,741 1341,754 1280,739 1343,752 1353,777 1353,728 1292,750 1376,751 1373,661 1257,748 1381,705 1279,721 1354,752 1277,694 1240,716 1281,651 1293,764 1383,777 1259,743 1295,717 1338,676 1290,758 1269,762 1321,759 1290,734 1383,767 1348,749 1275,690 1260,723 1352,704 1356,690 1335,704 1385,733 1378,760 1240,701 1264,740 1337,653 1278,663 1270,655 1285,732 1357,740 1273,685 1298,745 1312,708 1246,740 1372,759 1365,652 1358,710 1244,720 1358,710 1373,701 1320,741 1329,675 1284,703 1276,765 1254,768 1251,691 1312,654 1301,754 1374,669 1284,741 1244,677 1298,764 1271,651 1314,746 1270,749 1484,669 1487,659 1526,723 1426,774 1518,757 1415,710 1467,660 1477,763 1479,650 1493,708 1399,749 1419,732 1525,730 1481,741 1433,730 1513,682 1457,735 1418,691 1391,748 1435,772 1416,667 1436,745 1428,723 1410,668 1428,777 1455,725 1521,665 1388,755 1478,737 1402,755 1466,645 1484,722 1452,766 1388,773 1422,779 1444,697 1513,703 1448,757 1402,704 1494,729 1388,680 1467,694 1428,701 1478,649 1465,690 1410,718 1409,642 1392,673 1395,694 1452,752 1459,722 1479,752 1467,766 1455,714 1467,761 1493,720 1465,736 1525,721 1470,779 1523,652 1433,753 1439,696 1480,691 1420,700 1409,761 1433,703 1404,773 1394,687 1391,732 1402,697 1479,747 1420,739 1449,727 1407,705 1412,727 1429,710 1518,679 1474,776 1434,731 1479,725 1494,762 1496,743 1510,685 1396,695 1463,643 1508,718 1392,661 1419,755 1521,710 1458,717 1510,725 1506,745 1497,677 1452,645 1387,691 1413,773 1429,682 1439,745 1473,774 1405,684 1492,774 1468,772 1401,743 1388,673 1439,768 1430,664 1397,770 1434,765 1513,751 1444,640 1423,651 1492,674 1517,721 1527,774 1413,723 1466,754 1401,662 1418,757 1440,657 1521,662 1472,711 1416,764 1386,665 1414,701 1456,672 1400,735 1471,707 1495,710 1473,729 1462,732 1438,672 1398,712 1493,704 1481,682 1408,640 1397,700 1486,716 1423,779 1467,697 1462,779 1405,763 1477,759 1431,706 1389,740 1515,762 1457,766 1404,770 1484,761 1450,708 1487,663 1500,774 1524,719 1504,652 1487,736 1425,727 1482,750 1396,729 1484,738 1508,697 1499,775 1495,655 1507,742 1405,740 1443,735 1425,658 1520,704 1494,678 1450,739 1459,728 1395,724 1440,751 1476,763 1506,721 1389,734 1454,693 1447,727 1456,682 1442,691 1463,750 1425,714 1519,774 1401,651 1392,672 1460,728 1463,767 1454,690 1409,754 1423,742 1457,776 1448,665 1522,756 1492,740 1398,776 1467,696 1386,779 1405,748 1475,769 1474,700 1432,733 1419,669 1386,699 1512,666 1449,724 1441,765 1408,683 1476,777 1508,691 1416,739 1446,739 1509,739 1482,745 1504,756 1481,755 1489,691 1437,657 1436,745 1469,724 1436,654 1495,750 1478,742 1400,776 1395,656 1479,750 1417,649 1462,757 1482,720 1516,665 1448,648 1488,740 1487,664 1508,659 1435,669 1500,671 1477,774 1490,778 1389,761 1481,751 1405,730 1505,731 1485,661 1391,696 1445,726 1385,670 1521,742 1451,743 1470,666 1437,690 1448,741 1432,766 1391,662 1394,712 1462,675 1475,697 1393,729 1413,717 1463,667 1523,741 1421,667 1399,769 1488,726 1405,672 1400,730 1440,661 1493,746 1408,748 1403,704 1472,695 1387,781 1411,731 1492,667 1476,656 1450,767 1388,756 1513,757 1471,688 1509,696 1496,734 1423,766 1425,720 1515,726 1440,693 1461,681 1460,774 1425,654 1455,666 1465,739 1511,659 1428,770 1498,767 1498,730 1438,727 1410,773 1495,754 1422,706 1447,751 1527,755 1404,718 1413,715 1413,750 1404,750 1519,759 1500,684 1501,670 1458,710 1525,774 1396,753 1395,732 1497,647 1487,694 1465,652 1496,775 1477,766 1438,738 1472,769 1514,687 1439,646 1477,734 1506,737 1420,758 1433,770 1445,708 1422,756 1524,745 1458,763 1506,679 1497,689 1480,779 1398,729 1492,719 1436,742 1386,746 1401,665 1432,690 1400,757 1416,748 1438,654 1389,701 1421,665 1454,675 1487,759 1515,662 1404,641 1520,658 1451,719 1438,680 1475,748 1492,743 1395,772 1443,717 1426,773 1518,697 1480,719 1399,678 1427,753 1437,666 1441,778 1480,748 1499,714 1481,742 1482,741 1489,699 1523,727 1490,750 1397,747 1500,691 1489,652 1422,767 1426,757 1436,734 1388,763 1494,725 1390,707 1456,649 1439,698 1419,673 1432,649 1493,759 1495,748 1509,702 1464,758 1470,657 1493,740 1421,733 1436,744 1458,664 1482,666 1464,697 1451,726 1387,670 1522,725 1460,772 1405,672 1503,743 1481,737 1491,670 1441,768 1406,774 1478,712 1409,768 1500,758 1521,753 1519,769 1439,731 1501,673 1390,716 1439,753 1393,728 1448,755 1438,755 1441,671 1475,732 1518,733 1494,658 1457,757 1476,759 1453,733 1474,722 1495,744 1480,733 1490,731 1417,643 1386,739 1407,695 1429,659 1446,683 1455,757 1446,778 1478,734 1518,752 1420,765 1460,746 1475,770 1415,760 1433,737 1405,779 1430,743 1473,773 1481,743 1444,714 1415,758 1390,668 1505,753 1389,639 1408,658 1497,747 1389,776 1462,715 1425,767 1400,725 1463,688 1421,651 1519,777 1441,698 1397,693 1485,696 1492,677 1445,695 1464,745 1403,641 1473,769 1464,688 1398,776 1445,705 1502,755 1447,676 1411,700 1422,758 1507,768 1420,772 1470,667 1436,770 1460,689 1476,751 1476,767 1399,732 1389,641 1470,756 1474,672 1424,753 1461,685 1424,663 1403,752 1437,725 1482,743 1506,684 1405,666 1447,686 1504,739 1511,664 1448,739 1422,682 1487,704 1454,752 1463,734 1460,660 1496,737 1446,679 1414,754 1417,746 1479,727 1423,732 1466,737 1513,680 1480,655 1502,688 1516,691 1431,719 1480,645 1513,751 1493,646 1523,754 1491,669 1439,692 1516,738 1456,733 1521,716 1389,758 1477,718 1438,680 1479,745 1422,735 1517,753 1506,649 1512,713 1498,664 1488,726 1402,748 1522,645 1522,721 1503,763 1411,705 1508,659 1413,680 1511,754 1493,771 1429,779 1487,696 1497,688 1431,680 1437,731 1512,666 1416,723 1423,675 1473,758 1464,724 1473,641 1482,692 1399,695 1516,642 1449,647 1430,648 1516,766 1451,746 1453,684 1486,716 1396,718 1445,729 1497,717 1478,732 1484,711 1466,696 1508,768 1391,738 1458,710 1453,767 1452,677 1438,663 1497,723 1490,729 1441,743 1497,681 1416,727 1485,669 1402,760 1390,735 1439,662 1492,655 1408,733 1443,672 1442,780 1502,692 1466,722 1435,711 1408,655 1450,767 1506,770 1405,673 1438,697 1441,748 1512,653 1502,663 1498,774 1450,707 1456,758 1499,757 1463,679 1473,726 1523,659 1474,754 1464,678 1512,648 1421,775 1502,681 1498,764 1516,757 1421,699 1522,776 1444,759 1414,718 1460,747 1439,687 1481,743 1421,731 1437,645 1470,774 1492,736 1501,742 1414,655 1484,719 1512,710 1513,743 1457,762 1462,714 1422,680 1497,718 1503,744 1396,659 1459,687 1447,731 1441,764 1477,707 1398,698 1447,748 1477,697 1517,717 1396,715 1398,694 1485,755 1400,761 1503,736 1522,742 1494,718 1475,760 1515,686 1428,734 1389,747 1415,741 1419,779 1445,729 1505,759 1451,696 1408,656 1434,766 1484,721 1501,696 1511,755 1474,766 1462,718 1503,759 1512,718 1470,776 1476,682 1473,779 1495,765 1435,683 1437,740 1477,641 1435,776 1482,730 1445,669 1454,684 1439,750 1450,753 1447,690 1508,771 1400,751 1484,751 1415,699 1494,721 1506,754 1406,671 1407,735 1473,702 1431,693 1508,711 1459,749 1454,729 1430,702 1463,746 1496,651 1431,670 1387,749 1438,719 1452,757 1514,752 1413,737 1465,652 1494,772 1482,761 1511,669 1435,753 1491,751 1398,653 1449,749 1399,742 1473,651 1411,693 1460,772 1439,665 1432,646 1491,711 1456,703 1467,706 1464,694 1480,664 1521,773 1392,719 1400,722 1517,741 1420,724 1477,702 1451,668 1463,726 1463,738 1433,734 1468,768 1512,735 1495,746 1392,748 1484,733 1485,716 1480,763 1519,719 1453,705 1412,665 1443,715 1475,743 1463,720 1408,649 1521,658 1467,757 1458,696 1510,714 1526,718 1424,768 1511,780 1432,645 1515,741 1413,759 1472,712 1445,769 1423,677 1490,759 1421,763 1413,734 1387,662 1466,700 1457,779 1483,653 1501,769 1388,751 1526,749 1504,765 1435,728 1390,708 1387,768 1495,776 1407,697 1439,744 1517,712 1510,698 1449,775 1479,655 1430,724 1503,738 1395,768 1492,711 1437,758 1401,757 1465,754 1521,670 1473,761 1417,649 1398,752 1390,736 1431,742 1505,775 1455,742 1452,748 1413,760 1435,718 1452,650 1402,673 1425,646 1418,701 1440,667 1406,648 1482,679 1504,687 1497,668 1443,758 1395,768 1412,684 1457,652 1394,771 1499,736 1415,661 1397,649 1438,776 1398,655 1411,764 1440,748 1507,756 1481,714 1442,689 1410,754 1411,679 1524,780 1445,731 1385,725 1402,655 1489,729 1477,769 1462,704 1455,643 1399,746 1443,742 1488,750 1447,764 1409,715 1441,748 1494,760 1459,728 1452,641 1429,664 1445,709 1458,680 1419,743 1439,771 1507,771 1479,688 1432,756 1460,665 1423,726 1401,701 1446,739 1409,764 1514,728 1433,746 1405,771 1422,688 1420,765 1426,676 1460,701 1404,750 1497,722 1511,755 1404,671 1460,680 1393,642 1448,642 1449,671 1457,685 1426,779 1395,772 1485,740 1440,722 1484,722 1420,678 1459,720 1458,743 1423,705 1439,728 1426,709 1500,690 1428,772 1394,692 1493,712 1405,746 1432,641 1485,711 1402,749 1484,729 1415,663 1447,721 1444,644 1509,719 1439,759 1454,711 1405,642 1519,743 1469,707 1410,722 1507,735 1432,669 1525,728 1517,714 1428,745 1470,676 1433,757 1393,737 1465,680 1405,709 1444,695 1441,658 1451,755 1464,777 1390,640 1415,745 1471,759 1419,764 1402,728 1444,715 1480,759 1478,754 1522,753 1493,645 1472,705 1434,743 1403,735 1434,714 1411,777 1387,653 1426,653 1493,665 1446,734 1433,749 1441,757 1456,668 1423,707 1443,754 1499,763 1405,724 1503,658 1418,730 1494,750 1431,777 1403,747 1511,663 1462,751 1441,672 1450,734 1396,769 1477,719 1396,649 1410,767 1500,757 1483,683 1511,730 1433,725 1390,709 1525,703 1389,780 1496,728 1400,693 1408,685 1525,712 1419,725 1477,778 1440,717 1454,730 1499,722 1405,729 1461,748 1519,669 1521,650 1512,746 1390,695 1430,760 1416,654 1475,770 1460,754 1414,684 1499,767 1449,750 1498,693 1487,768 1404,709 1426,645 1457,697 1452,767 1409,651 1447,779 1444,684 1414,702 1442,659 1386,758 1418,708 1516,699 1402,741 1427,715 1408,755 1520,689 1513,755 1477,644 1520,744 1427,714 1390,691 1451,689 1525,648 1423,758 1404,734 1433,773 1506,676 1421,700 1460,641 1433,777 1509,770 1445,767 1451,765 1473,698 1507,682 1410,775 1480,770 1445,657 1517,739 1493,715 1438,755 1463,688 1414,753 1392,712 1491,758 1475,710 1399,778 1515,761 1473,768 1457,661 1414,745 1479,708 1502,762 1467,766 1523,768 1509,778 1404,687 1490,775 1476,707 1524,726 1432,693 1523,704 1386,748 1394,737 1410,727 1520,737 1419,722 1501,770 1502,764 1526,706 1455,672 1516,742 1470,728 1490,703 1398,766 1416,665 1453,748 1498,764 1403,679 1395,769 1470,739 1491,766 1451,770 1526,701 1411,705 1437,715 1469,742 1485,690 1401,679 1500,731 1390,671 1514,683 1387,649 1426,736 1416,696 1447,676 1427,755 1491,753 1506,755 1521,703 1491,714 1396,747 1421,762 1420,666 1522,725 1516,733 1411,712 1500,747 1420,648 1480,766 1423,660 1512,706 1431,737 1453,773 1389,686 1440,695 1487,778 1515,729 1514,656 1490,750 1445,772 1477,712 1463,738 1495,777 1499,751 1447,737 1432,731 1516,727 1455,675 1445,749 1389,706 1400,655 1393,721 1477,695 1494,693 1486,707 1508,675 1392,709 1420,757 1518,727 1443,779 1447,717 1492,755 1477,753 1423,732 1486,693 1473,745 1512,777 1516,738 1506,740 1458,689 1520,698 1491,762 1396,647 1469,669 1484,667 1417,759 1407,772 1408,773 1401,728 1473,777 1470,712 1487,743 1520,746 1417,683 1400,745 1417,765 1407,694 1505,698 1413,696 1484,713 1405,734 1409,766 1393,706 1434,734 1516,651 1425,749 1410,691 1446,698 1389,665 1514,691 1515,713 1484,687 1428,711 1388,652 1481,742 1387,704 1511,738 1421,706 1502,776 1444,746 1419,762 1448,728 1463,684 1506,703 1432,683 1500,731 1418,665 1438,751 1526,735 1512,646 1441,765 1423,713 1440,753 1515,774 1466,760 1521,756 1473,761 1504,676 1483,715 1487,665 1525,754 1398,763 1418,770 1505,666 1470,710 1424,721 1485,774 1505,708 1443,774 1451,772 1442,674 1442,751 1464,742 1416,731 1470,776 1391,708 1516,645 1460,721 1475,749 1518,725 1513,698 1526,713 1436,777 1503,649 1473,711 1393,713 1409,697 1389,677 1455,760 1486,667 1500,752 1401,688 1433,706 1452,731 1523,656 1417,651 1520,764 1422,700 1429,675 1412,680 1522,762 1454,729 1442,699 1428,757 1479,713 1417,739 1448,741 1400,769 1401,757 1412,748 1516,729 1507,650 1454,695 1432,763 1437,727 1418,714 1427,685 1521,766 1500,720 1479,711 1397,691 1388,715 1509,736 1403,766 1523,682 1502,707 1403,698 1478,664 1403,691 1392,644 1520,740 1461,726 1444,758 1419,640 1397,756 1525,745 1522,756 1503,678 1497,707 1492,762 1476,655 1524,752 1403,648 1481,645 1478,731 1471,734 1424,753 1495,752 1445,745 1481,665 1494,751 1501,724 1511,708 1425,708 1442,648 1393,710 1461,683 1409,746 1438,734 1458,751 1526,729 1519,731 1492,706 1460,660 1521,642 1518,689 1477,710 1464,686 1410,748 1419,679 1443,762 1395,690 1446,684 1448,756 1427,709 1466,759 1516,756 1503,726 1477,766 1425,726 1418,704 1399,717 1419,658 1515,751 1454,773 1475,656 1519,711 1454,721 1476,755 1399,748 1431,691 1461,756 1390,667 1438,645 1459,646 1392,717 1413,776 1437,740 1431,771 1482,704 1434,742 1410,695 1520,653 1512,764 1404,719 1401,656 1398,655 1449,650 1463,775 1404,646 1431,754 1416,718 1458,727 1502,684 1395,720 1469,648 1404,778 1426,780 1397,747 1453,768 1422,778 1418,681 1442,662 1520,716 1449,773 1520,759 1465,681 1483,676 1445,750 1465,666 1451,685 1415,705 1458,768 1458,770 1392,719 1508,707 1468,646 1423,717 1444,677 1399,702 1395,699 1438,779 1407,728 1412,722 1410,767 1513,741 1505,760 1482,646 1437,687 1465,756 1524,766 1489,756 1512,663 1440,780 1446,747 1420,651 1523,743 1518,687 1509,665 1445,743 1409,758 1441,646 1409,745 1525,765 1462,716 1467,767 1438,689 1391,763 1386,745 1469,772 1524,748 1491,744 1513,724 1412,780 1442,660 1525,671 1459,744 1425,731 1482,681 1519,763 1453,747 1449,756 1495,751 1491,657 1473,671 1503,698 1461,670 1501,723 1432,757 1457,778 1455,663 1411,670 1421,740 1452,711 1423,737 1484,705 1504,646 1466,780 1453,730 1493,705 1499,742 1401,660 1424,726 1466,776 1522,722 1444,719 1501,662 1430,700 1478,659 1450,745 1487,779 1472,673 1431,737 1524,735 1418,759 1432,732 1465,646 1489,768 1411,699 1399,771 1498,642 1504,704 1474,711 1487,734 1452,736 1399,779 1456,725 1434,747 1507,744 1495,755 1423,762 1438,714 1389,673 1461,740 1478,709 1408,661 1453,769 1445,721 1453,775 1480,774 1429,643 1495,762 1389,745 1426,771 1497,736 1448,728 1462,691 1432,747 1416,655 1394,753 1398,652 1509,649 1444,732 1462,744 1446,739 1438,777 1481,647 1424,707 1433,737 1515,777 1497,677 1442,758 1392,753 1479,724 1490,753 1508,728 1522,679 1525,725 1450,780 1516,755 1497,680 1473,701 1392,683 1399,714 1521,723 1442,664 1415,706 1502,677 1453,728 1461,767 1491,660 1471,773 1464,642 1415,728 1390,779 1426,724 1387,651 1409,686 1412,768 1490,676 1471,666 1524,654 1414,693 1464,707 1394,720 1414,767 1507,682 1520,732 1496,677 1389,695 1463,714 1508,719 1490,729 1402,683 1465,741 1407,735 1472,660 1399,713 1509,756 1414,776 1437,777 1463,675 1389,684 1443,685 1454,652 1404,768 1421,766 1464,698 1462,750 1472,766 1493,653 1408,735 1403,756 1511,765 1453,664 1506,716 1430,641 1499,778 1512,707 1497,744 1526,723 1517,719 1514,657 1520,698 1483,647 1524,657 1426,711 1502,759 1485,654 1391,750 1453,761 1425,743 1525,726 1394,667 1526,726 1414,750 1470,683 1399,747 1463,710 1421,715 1485,647 1508,757 1467,724 1497,741 1468,735 1399,708 1518,732 1434,751 1519,726 1519,712 1490,733 1521,677 1407,771 1433,729 1506,658 1407,647 1407,691 1477,694 1421,707 1477,735 1416,778 1458,758 1425,736 1508,744 1389,752 1434,777 1492,769 1471,651 1454,741 1486,745 1501,757 1442,722 1438,701 1442,661 1456,731 1511,703 1482,760 1463,716 1425,682 1487,738 1461,755 1413,741 1515,734 1399,645 1524,733 1455,755 1397,780 1398,657 1488,733 1458,756 1407,777 1431,753 1496,769 1509,737 1425,724 1522,739 1437,645 1517,648 1402,739 1514,696 1491,672 1485,779 1407,700 1461,773 1519,686 1526,765 1501,673 1432,779 1431,760 1386,686 1482,745 1447,732 1466,741 1509,737 1485,729 1421,713 1494,713 1475,709 1491,720 1412,689 1488,745 1523,705 1395,759 1489,765 1517,779 1496,693 1485,652 1499,738 1475,761 1421,752 1504,773 1426,654 1478,702 1456,735 1518,655 1424,757 1509,760 1496,710 1480,708 1472,717 1481,716 1468,750 1404,661 1408,775 1421,641 1508,763 1459,714 1482,764 1432,763 1443,641 1477,729 1473,746 1481,775 1402,698 1487,710 1423,776 1477,753 1474,749 1474,743 1439,709 1471,748 1463,749 1492,714 1522,726 1459,772 1520,718 1511,731 1423,700 1507,723 1492,769 1479,751 1456,735 1439,780 1500,770 1511,750 1460,697 1494,653 1425,736 1500,735 1454,756 1390,763 1472,676 1467,694 1519,687 1435,746 1516,703 1575,672 1536,762 1553,744 1541,718 1536,756 1580,746 1541,695 1527,777 1537,678 1566,766 1560,722 1535,695 1584,713 1534,749 1566,723 1537,650 1596,739 1569,675 1527,664 1542,674 1546,700 1559,695 1585,736 1537,709 1583,681 1570,719 1566,660 1539,707 1570,719 1590,717 1546,673 1549,699 1567,714 1581,698 1563,753 1572,675 1543,753 1536,733 1570,729 1580,779 1575,739 1539,775 1584,702 1549,721 1589,709 1581,756 1563,776 1570,750 1594,771 1529,744 1547,762 1593,722 1546,701 1570,683 1594,691 1530,675 1561,739 1587,761 1580,754 1543,745 1530,688 1566,748 1591,742 1581,741 1597,678 1533,686 1564,771 1530,698 1584,712 1534,750 1570,757 1536,663 1527,775 1542,754 1541,762 1575,769 1532,676 1556,705 1561,691 1590,658 1533,740 1573,764 1556,706 1555,752 1564,754 1569,740 1593,745 1596,735 1571,725 1558,766 1593,735 1572,701 1534,732 1597,766 1580,721 1575,672 1571,740 1595,746 1552,685 1554,742 1591,742 1574,650 1570,739 1568,716 1537,669 1579,666 1557,724 1546,742 1547,760 1546,744 1542,741 1596,713 1557,732 1557,724 1547,712 1575,752 1557,684 1543,660 1548,751 1545,711 1541,656 1548,742 1561,697 1597,749 1540,672 1547,707 1581,690 1548,702 1581,662 1537,737 1560,726 1540,763 1538,744 1548,750 1590,739 1585,645 1533,728 1539,648 1556,739 1581,766 1573,733 1536,652 1567,691 1578,761 1578,746 1542,773 1548,754 1574,750 1582,668 1554,730 1552,710 1557,680 1544,720 1547,670 1572,756 1582,771 1592,677 1581,752 1547,726 1531,748 1578,646 1583,772 1555,664 1554,683 1582,716 1586,750 1552,705 1590,705 1572,655 1583,681 1528,772 1553,670 1588,736 1567,756 1575,711 1588,704 1534,732 1550,653 1549,665 1535,774 1587,739 1549,649 1528,716 1552,755 1569,669 1588,659 1559,663 1537,673 1560,692 1548,733 1584,720 1582,760 1561,771 1559,770 1564,728 1560,733 1534,727 1592,730 1539,771 1570,766 1550,735 1558,745 1565,698 1529,775 1588,706 1577,679 1558,752 1534,674 1592,671 1551,648 1564,692 1559,777 1589,679 1594,726 1534,774 1585,765 1558,698 1595,717 1571,751 1567,760 1541,689 1537,767 1567,709 1545,761 1537,658 1567,691 1538,764 1593,741 1565,776 1557,756 1548,779 1589,762 1576,673 1569,642 1538,669 1528,732 1556,749 1550,747 1556,658 1538,744 1543,703 1533,771 1553,696 1574,779 1582,739 1551,661 1591,736 1555,762 1540,728 1530,650 1579,727 1577,762 1544,741 1543,727 1583,737 1569,661 1573,757 1585,702 1563,662 1544,773 1589,725 1588,736 1557,778 1565,730 1561,711 1541,657 1534,733 1579,712 1570,755 1582,770 1568,695 1552,766 1571,731 1591,679 1593,760 1594,747 1568,745 1583,659 1559,641 1552,691 1554,699 1570,768 1563,754 1579,737 1590,667 1578,762 1594,773 1562,656 1593,646 1551,717 1588,698 1549,737 1578,748 1538,677 1558,736 1547,694 1590,716 1567,659 1575,663 1595,675 1535,748 1565,674 1530,693 1560,695 1528,747 1580,705 1576,682 1588,773 1548,733 1536,668 1562,675 1596,731 1549,695 1576,732 1578,776 1565,667 1585,704 1589,729 1593,670 1574,692 1553,769 1570,737 1567,725 1568,714 1552,724 1569,682 1591,693 1597,725 1528,707 1549,760 1545,768 1553,749 1529,728 1546,745 1557,753 1590,698 1542,699 1555,663 1559,704 1583,695 1559,773 1534,776 1527,705 1576,754 1569,755 1528,731 1532,759 1572,673 1534,667 1527,700 1552,726 1546,740 1564,771 1582,668 1549,773 1582,762 1581,739 1543,739 1551,659 1576,701 1540,743 1583,770 1542,712 1534,776 1585,682 1543,699 1563,655 1530,707 1590,733 1558,647 1581,697 1529,740 1597,743 1582,776 1551,681 1550,652 1566,724 1594,691 1596,693 1550,682 1590,700 1590,722 1551,754 1595,715 1588,707 1558,726 1554,684 1587,723 1540,748 1542,665 1557,738 1569,765 1597,673 1548,730 1548,648 1586,750 1594,736 1543,720 1568,697 1556,754 1560,757 1557,760 1534,736 1560,723 1549,737 1540,696 1532,766 1562,728 1540,749 1529,645 1572,706 1596,722 1582,732 1568,704 1584,662 1550,654 1565,651 1557,682 1538,658 1550,728 1566,716 1547,688 1528,726 1550,752 1563,769 1576,657 1552,740 1590,649 1583,726 1587,702 1549,777 1529,766 1581,699 1569,721 1563,706 1534,729 1592,660 1542,668 1565,736 1588,683 1540,754 1557,772 1576,669 1534,701 1549,752 1597,689 1587,759 1551,767 1570,763 1542,721 1595,662 1562,738 1595,716 1564,701 1559,752"/>
</g>
<path d="M1385.3,641.7 L1388.9,641.4 L1392.5,641.1 L1396.2,641.2 L1399.8,641.2 L1403.4,641.3 L1407.0,641.4 L1410.7,641.4 L1414.3,641.5 L1417.9,641.5 L1421.5,641.6 L1425.2,641.6 L1428.8,641.7 L1432.4,641.7 L1436.0,641.8 L1439.7,641.8 L1443.3,641.9 L1446.9,641.9 L1450.5,642.0 L1454.2,642.0 L1457.8,642.1 L1461.4,642.1 L1465.1,642.2 L1468.7,642.2 L1472.3,642.3 L1475.9,642.3 L1479.6,642.4 L1483.2,642.4 L1486.8,642.4 L1490.4,642.5 L1494.1,642.5 L1497.7,642.6 L1501.3,642.6 L1504.9,642.6 L1508.6,642.7 L1512.2,642.7 L1515.8,642.7 L1519.4,642.8 L1523.1,642.7 L1526.7,642.7 L1526.7,777.9 L1523.1,777.9 L1519.4,777.9 L1515.8,778.0 L1512.2,778.0 L1508.6,778.0 L1504.9,778.0 L1501.3,778.1 L1497.7,778.1 L1494.1,778.1 L1490.4,778.1 L1486.8,778.2 L1483.2,778.2 L1479.6,778.2 L1475.9,778.2 L1472.3,778.3 L1468.7,778.3 L1465.1,778.3 L1461.4,778.3 L1457.8,778.4 L1454.2,778.4 L1450.5,778.4 L1446.9,778.4 L1443.3,778.4 L1439.7,778.5 L1436.0,778.5 L1432.4,778.5 L1428.8,778.5 L1425.2,778.5 L1421.5,778.5 L1417.9,778.6 L1414.3,778.6 L1410.7,778.6 L1407.0,778.6 L1403.4,778.6 L1399.8,778.7 L1396.2,778.7 L1392.5,778.7 L1388.9,778.6 L1385.3,778.6Z" fill="#c75548"/>
<path d="M504.6,891.4 L507.8,891.4 L511.0,891.4 L514.2,891.4 L517.4,891.4 L520.6,891.4 L523.9,891.4 L527.1,891.4 L530.3,891.4 L533.5,891.4 L536.7,891.3 L539.9,891.3 L543.1,891.3 L546.4,891.3 L549.6,891.3 L552.8,891.3 L556.0,891.2 L559.2,891.2 L562.4,891.2 L565.6,891.2 L568.9,891.1 L572.1,891.1 L575.3,891.0 L578.5,891.0 L581.7,891.0 L584.9,890.9 L588.1,890.9 L591.4,890.8 L594.6,890.8 L597.8,890.4 L601.0,889.6 L604.2,888.4 L607.4,886.9 L610.6,885.2 L613.9,883.3 L617.1,880.4 L620.3,876.4 L623.5,871.8 L626.7,866.7 L629.9,860.7 L633.1,853.4 L636.4,845.2 L639.6,836.4 L642.8,826.3 L646.0,815.1 L649.2,804.0 L652.4,793.3 L655.6,782.5 L658.9,771.9 L662.1,761.7 L665.3,751.7 L668.5,741.4 L671.7,732.2 L674.9,725.4 L678.1,720.2 L681.4,715.7 L684.6,711.9 L687.8,708.7 L691.0,706.1 L694.2,703.6 L697.4,701.2 L700.6,699.0 L703.9,697.1 L707.1,695.6 L710.3,694.6 L713.5,694.1 L716.7,694.2 L719.9,694.5 L723.1,695.0 L726.4,695.6 L729.6,696.4 L732.8,697.2 L736.0,698.0 L739.2,698.8 L742.4,699.5 L745.6,700.1 L748.9,700.6 L752.1,701.1 L755.3,701.6 L758.5,702.1 L761.7,702.5 L764.9,703.0 L768.1,703.5 L771.4,704.0 L774.6,704.5 L777.8,705.0 L781.0,705.6 L784.2,706.2 L787.4,706.7 L790.6,707.3 L793.9,707.9 L797.1,708.5 L800.3,709.1 L803.5,709.7 L806.7,710.3 L809.9,710.9 L813.1,711.5 L816.4,712.0 L819.6,712.6 L822.8,713.1 L826.0,713.6 L829.2,714.1 L832.4,714.5 L835.6,715.0 L838.9,715.4 L842.1,715.9 L845.3,716.3 L848.5,716.7 L851.7,717.2 L854.9,717.6 L858.1,718.0 L861.4,718.4 L864.6,718.7 L867.8,719.1 L871.0,719.4 L874.2,719.8 L877.4,720.1 L880.6,720.4 L883.9,720.7 L887.1,721.0 L890.3,721.3 L893.5,721.5 L896.7,721.8 L899.9,722.1 L903.1,722.4 L906.4,722.6 L909.6,722.8 L912.8,723.1 L916.0,723.3 L919.2,723.5 L922.4,723.7 L925.6,723.8 L928.9,724.0 L932.1,724.1 L935.3,724.2 L938.5,724.3 L941.7,724.5 L944.9,724.6 L948.1,724.7 L951.4,724.8 L954.6,724.9 L957.8,725.0 L961.0,725.1 L964.2,725.2 L967.4,725.3 L970.6,725.4 L973.9,725.5 L977.1,725.5 L980.3,725.6 L983.5,725.7 L986.7,725.7 L989.9,725.8 L993.1,725.8 L996.4,725.9 L999.6,725.9 L1002.8,725.9 L1006.0,726.0 L1009.2,726.0 L1012.4,726.0 L1015.6,726.1 L1018.9,726.1 L1022.1,726.1 L1025.3,726.2 L1028.5,726.2 L1031.7,726.2 L1034.9,726.3 L1038.1,726.3 L1041.4,726.3 L1044.6,726.3 L1047.8,726.4 L1051.0,726.4 L1054.2,726.4 L1057.4,726.4 L1060.6,726.5 L1063.9,726.5 L1067.1,726.5 L1070.3,726.5 L1073.5,726.6 L1076.7,726.6 L1079.9,726.6 L1083.1,726.6 L1086.4,726.7 L1089.6,726.7 L1092.8,726.7 L1096.0,726.7 L1099.2,726.8 L1102.4,726.8 L1105.6,726.8 L1108.8,726.8 L1112.1,726.8 L1115.3,726.8 L1118.5,726.9 L1121.7,726.9 L1124.9,726.9 L1128.1,726.9 L1131.3,726.9 L1134.6,727.0 L1137.8,727.0 L1141.0,727.0 L1144.2,727.0 L1147.4,727.0 L1150.6,727.0 L1153.8,727.0 L1157.1,727.1 L1160.3,727.1 L1163.5,727.1 L1166.7,727.1 L1169.9,727.1 L1173.1,727.1 L1176.3,727.1 L1179.6,727.1 L1182.8,727.1 L1186.0,727.1 L1189.2,727.2 L1192.4,727.2 L1195.6,727.2 L1198.8,727.2 L1202.1,727.2 L1205.3,727.2 L1208.5,727.2 L1211.7,727.2 L1214.9,727.2 L1218.1,727.2 L1221.3,727.2 L1224.6,727.2 L1227.8,727.2 L1231.0,727.2 L1234.2,727.2 L1237.4,727.2 L1240.6,727.2 L1243.8,727.2 L1247.1,727.2 L1250.3,727.2 L1253.5,727.2 L1256.7,727.2 L1259.9,727.2 L1263.1,727.2 L1266.3,727.2 L1269.6,727.2 L1272.8,727.2 L1276.0,727.2 L1279.2,727.2 L1282.4,727.2 L1285.6,727.2 L1288.8,727.2 L1292.1,727.2 L1295.3,727.1 L1298.5,727.1 L1301.7,727.1 L1304.9,727.1 L1308.1,727.1 L1311.3,727.1 L1314.6,727.1 L1317.8,727.1 L1321.0,727.1 L1324.2,727.1 L1327.4,727.1 L1330.6,727.0 L1333.8,727.0 L1337.1,727.0 L1340.3,727.0 L1343.5,727.0 L1346.7,727.0 L1349.9,727.0 L1353.1,727.0 L1356.3,726.9 L1359.6,726.9 L1362.8,726.9 L1366.0,726.9 L1369.2,726.9 L1372.4,726.9 L1375.6,726.8 L1378.8,726.8 L1382.1,726.8 L1385.3,726.8 L1388.5,726.8 L1391.7,726.7 L1394.9,726.7 L1398.1,726.7 L1401.3,726.7 L1404.6,726.7 L1407.8,726.6 L1411.0,726.6 L1414.2,726.6 L1417.4,726.6 L1420.6,726.6 L1423.8,726.5 L1427.1,726.5 L1430.3,726.5 L1433.5,726.5 L1436.7,726.4 L1439.9,726.4 L1443.1,726.4 L1446.3,726.4 L1449.6,726.3 L1452.8,726.3 L1456.0,726.3 L1459.2,726.2 L1462.4,726.2 L1465.6,726.2 L1468.8,726.2 L1472.1,726.1 L1475.3,726.1 L1478.5,726.1 L1481.7,726.0 L1484.9,726.0 L1488.1,726.0 L1491.3,725.9 L1494.6,725.9 L1497.8,725.9 L1501.0,725.8 L1504.2,725.8 L1507.4,725.8 L1510.6,725.7 L1513.8,725.7 L1517.1,725.7 L1520.3,725.6 L1523.5,725.6 L1526.7,725.6 L1529.9,725.5 L1533.1,725.5 L1536.3,725.4 L1539.6,725.4 L1542.8,725.4 L1546.0,725.3 L1549.2,725.3 L1552.4,725.2 L1555.6,725.2 L1558.8,725.2 L1562.1,725.1 L1565.3,725.1 L1568.5,725.0 L1571.7,725.0 L1574.9,724.9 L1578.1,724.9 L1581.3,724.8 L1584.6,724.8 L1587.8,724.8 L1591.0,724.7 L1594.2,724.7 L1597.4,724.6 L1600.6,724.6" fill="none" stroke="#111" stroke-width="2" stroke-dasharray="5 1 3 2" transform="translate(0,3)" opacity="0.85"/>
<path d="M504.6,891.4 L507.8,891.4 L511.0,891.4 L514.2,891.4 L517.4,891.4 L520.6,891.4 L523.9,891.4 L527.1,891.4 L530.3,891.4 L533.5,891.4 L536.7,891.3 L539.9,891.3 L543.1,891.3 L546.4,891.3 L549.6,891.3 L552.8,891.3 L556.0,891.2 L559.2,891.2 L562.4,891.2 L565.6,891.2 L568.9,891.1 L572.1,891.1 L575.3,891.0 L578.5,891.0 L581.7,891.0 L584.9,890.9 L588.1,890.9 L591.4,890.8 L594.6,890.8 L597.8,890.4 L601.0,889.6 L604.2,888.4 L607.4,886.9 L610.6,885.2 L613.9,883.3 L617.1,880.4 L620.3,876.4 L623.5,871.8 L626.7,866.7 L629.9,860.7 L633.1,853.4 L636.4,845.2 L639.6,836.4 L642.8,826.3 L646.0,815.1 L649.2,804.0 L652.4,793.3 L655.6,782.5 L658.9,771.9 L662.1,761.7 L665.3,751.7 L668.5,741.4 L671.7,732.2 L674.9,725.4 L678.1,720.2 L681.4,715.7 L684.6,711.9 L687.8,708.7 L691.0,706.1 L694.2,703.6 L697.4,701.2 L700.6,699.0 L703.9,697.1 L707.1,695.6 L710.3,694.6 L713.5,694.1 L716.7,694.2 L719.9,694.5 L723.1,695.0 L726.4,695.6 L729.6,696.4 L732.8,697.2 L736.0,698.0 L739.2,698.8 L742.4,699.5 L745.6,700.1 L748.9,700.6 L752.1,701.1 L755.3,701.6 L758.5,702.1 L761.7,702.5 L764.9,703.0 L768.1,703.5 L771.4,704.0 L774.6,704.5 L777.8,705.0 L781.0,705.6 L784.2,706.2 L787.4,706.7 L790.6,707.3 L793.9,707.9 L797.1,708.5 L800.3,709.1 L803.5,709.7 L806.7,710.3 L809.9,710.9 L813.1,711.5 L816.4,712.0 L819.6,712.6 L822.8,713.1 L826.0,713.6 L829.2,714.1 L832.4,714.5 L835.6,715.0 L838.9,715.4 L842.1,715.9 L845.3,716.3 L848.5,716.7 L851.7,717.2 L854.9,717.6 L858.1,718.0 L861.4,718.4 L864.6,718.7 L867.8,719.1 L871.0,719.4 L874.2,719.8 L877.4,720.1 L880.6,720.4 L883.9,720.7 L887.1,721.0 L890.3,721.3 L893.5,721.5 L896.7,721.8 L899.9,722.1 L903.1,722.4 L906.4,722.6 L909.6,722.8 L912.8,723.1 L916.0,723.3 L919.2,723.5 L922.4,723.7 L925.6,723.8 L928.9,724.0 L932.1,724.1 L935.3,724.2 L938.5,724.3 L941.7,724.5 L944.9,724.6 L948.1,724.7 L951.4,724.8 L954.6,724.9 L957.8,725.0 L961.0,725.1 L964.2,725.2 L967.4,725.3 L970.6,725.4 L973.9,725.5 L977.1,725.5 L980.3,725.6 L983.5,725.7 L986.7,725.7 L989.9,725.8 L993.1,725.8 L996.4,725.9 L999.6,725.9 L1002.8,725.9 L1006.0,726.0 L1009.2,726.0 L1012.4,726.0 L1015.6,726.1 L1018.9,726.1 L1022.1,726.1 L1025.3,726.2 L1028.5,726.2 L1031.7,726.2 L1034.9,726.3 L1038.1,726.3 L1041.4,726.3 L1044.6,726.3 L1047.8,726.4 L1051.0,726.4 L1054.2,726.4 L1057.4,726.4 L1060.6,726.5 L1063.9,726.5 L1067.1,726.5 L1070.3,726.5 L1073.5,726.6 L1076.7,726.6 L1079.9,726.6 L1083.1,726.6 L1086.4,726.7 L1089.6,726.7 L1092.8,726.7 L1096.0,726.7 L1099.2,726.8 L1102.4,726.8 L1105.6,726.8 L1108.8,726.8 L1112.1,726.8 L1115.3,726.8 L1118.5,726.9 L1121.7,726.9 L1124.9,726.9 L1128.1,726.9 L1131.3,726.9 L1134.6,727.0 L1137.8,727.0 L1141.0,727.0 L1144.2,727.0 L1147.4,727.0 L1150.6,727.0 L1153.8,727.0 L1157.1,727.1 L1160.3,727.1 L1163.5,727.1 L1166.7,727.1 L1169.9,727.1 L1173.1,727.1 L1176.3,727.1 L1179.6,727.1 L1182.8,727.1 L1186.0,727.1 L1189.2,727.2 L1192.4,727.2 L1195.6,727.2 L1198.8,727.2 L1202.1,727.2 L1205.3,727.2 L1208.5,727.2 L1211.7,727.2 L1214.9,727.2 L1218.1,727.2 L1221.3,727.2 L1224.6,727.2 L1227.8,727.2 L1231.0,727.2 L1234.2,727.2 L1237.4,727.2 L1240.6,727.2 L1243.8,727.2 L1247.1,727.2 L1250.3,727.2 L1253.5,727.2 L1256.7,727.2 L1259.9,727.2 L1263.1,727.2 L1266.3,727.2 L1269.6,727.2 L1272.8,727.2 L1276.0,727.2 L1279.2,727.2 L1282.4,727.2 L1285.6,727.2 L1288.8,727.2 L1292.1,727.2 L1295.3,727.1 L1298.5,727.1 L1301.7,727.1 L1304.9,727.1 L1308.1,727.1 L1311.3,727.1 L1314.6,727.1 L1317.8,727.1 L1321.0,727.1 L1324.2,727.1 L1327.4,727.1 L1330.6,727.0 L1333.8,727.0 L1337.1,727.0 L1340.3,727.0 L1343.5,727.0 L1346.7,727.0 L1349.9,727.0 L1353.1,727.0 L1356.3,726.9 L1359.6,726.9 L1362.8,726.9 L1366.0,726.9 L1369.2,726.9 L1372.4,726.9 L1375.6,726.8 L1378.8,726.8 L1382.1,726.8 L1385.3,726.8 L1388.5,726.8 L1391.7,726.7 L1394.9,726.7 L1398.1,726.7 L1401.3,726.7 L1404.6,726.7 L1407.8,726.6 L1411.0,726.6 L1414.2,726.6 L1417.4,726.6 L1420.6,726.6 L1423.8,726.5 L1427.1,726.5 L1430.3,726.5 L1433.5,726.5 L1436.7,726.4 L1439.9,726.4 L1443.1,726.4 L1446.3,726.4 L1449.6,726.3 L1452.8,726.3 L1456.0,726.3 L1459.2,726.2 L1462.4,726.2 L1465.6,726.2 L1468.8,726.2 L1472.1,726.1 L1475.3,726.1 L1478.5,726.1 L1481.7,726.0 L1484.9,726.0 L1488.1,726.0 L1491.3,725.9 L1494.6,725.9 L1497.8,725.9 L1501.0,725.8 L1504.2,725.8 L1507.4,725.8 L1510.6,725.7 L1513.8,725.7 L1517.1,725.7 L1520.3,725.6 L1523.5,725.6 L1526.7,725.6 L1529.9,725.5 L1533.1,725.5 L1536.3,725.4 L1539.6,725.4 L1542.8,725.4 L1546.0,725.3 L1549.2,725.3 L1552.4,725.2 L1555.6,725.2 L1558.8,725.2 L1562.1,725.1 L1565.3,725.1 L1568.5,725.0 L1571.7,725.0 L1574.9,724.9 L1578.1,724.9 L1581.3,724.8 L1584.6,724.8 L1587.8,724.8 L1591.0,724.7 L1594.2,724.7 L1597.4,724.6 L1600.6,724.6" fill="none" stroke="#44a4cf" stroke-width="4.5" stroke-linecap="round"/>
<g font-family="Liberation Sans" font-size="18" fill="#1a1a1a"><text transform="matrix(1.10 0 0 1 446 903.1)" text-anchor="end">0</text><text transform="matrix(1.10 0 0 1 446 838.2)" text-anchor="end">5</text><text transform="matrix(1.10 0 0 1 446 773.3)" text-anchor="end">10</text><text transform="matrix(1.10 0 0 1 446 708.4)" text-anchor="end">15</text><text transform="matrix(1.10 0 0 1 446 643.5)" text-anchor="end">20</text><text transform="matrix(1.10 0 0 1 446 578.6)" text-anchor="end">25</text><text transform="matrix(1.10 0 0 1 446 513.7)" text-anchor="end">30</text><text transform="matrix(1.10 0 0 1 446 448.8)" text-anchor="end">35</text><text transform="matrix(1.10 0 0 1 446 383.9)" text-anchor="end">40</text><text transform="matrix(1.10 0 0 1 446 319.0)" text-anchor="end">45</text><text transform="matrix(1.10 0 0 1 446 254.1)" text-anchor="end">50</text><text transform="matrix(1.10 0 0 1 466.0 923.3)" text-anchor="middle">0</text><text transform="matrix(1.10 0 0 1 517.4 923.3)" text-anchor="middle">4</text><text transform="matrix(1.10 0 0 1 568.9 923.3)" text-anchor="middle">8</text><text transform="matrix(1.10 0 0 1 620.3 923.3)" text-anchor="middle">12</text><text transform="matrix(1.10 0 0 1 671.7 923.3)" text-anchor="middle">16</text><text transform="matrix(1.10 0 0 1 723.1 923.3)" text-anchor="middle">20</text><text transform="matrix(1.10 0 0 1 774.6 923.3)" text-anchor="middle">24</text><text transform="matrix(1.10 0 0 1 826.0 923.3)" text-anchor="middle">28</text><text transform="matrix(1.10 0 0 1 877.4 923.3)" text-anchor="middle">32</text><text transform="matrix(1.10 0 0 1 928.9 923.3)" text-anchor="middle">36</text><text transform="matrix(1.10 0 0 1 980.3 923.3)" text-anchor="middle">40</text><text transform="matrix(1.10 0 0 1 1031.7 923.3)" text-anchor="middle">44</text><text transform="matrix(1.10 0 0 1 1083.1 923.3)" text-anchor="middle">48</text><text transform="matrix(1.10 0 0 1 1134.6 923.3)" text-anchor="middle">52</text><text transform="matrix(1.10 0 0 1 1186.0 923.3)" text-anchor="middle">56</text><text transform="matrix(1.10 0 0 1 1237.4 923.3)" text-anchor="middle">60</text><text transform="matrix(1.10 0 0 1 1288.8 923.3)" text-anchor="middle">64</text><text transform="matrix(1.10 0 0 1 1340.3 923.3)" text-anchor="middle">68</text><text transform="matrix(1.10 0 0 1 1391.7 923.3)" text-anchor="middle">72</text><text transform="matrix(1.10 0 0 1 1443.1 923.3)" text-anchor="middle">76</text><text transform="matrix(1.10 0 0 1 1494.6 923.3)" text-anchor="middle">80</text><text transform="matrix(1.10 0 0 1 1546.0 923.3)" text-anchor="middle">84</text><text transform="matrix(1.10 0 0 1 1597.4 923.3)" text-anchor="middle">88</text></g>
<g font-family="Liberation Sans" font-size="20.5" fill="#1a1a1a"><text x="327.0" y="546.6" textLength="46.5" lengthAdjust="spacingAndGlyphs" text-anchor="start">Total</text><text x="289.0" y="569.5" textLength="123.0" lengthAdjust="spacingAndGlyphs" text-anchor="start">Testosterone</text><text x="312.0" y="592.4" textLength="77.5" lengthAdjust="spacingAndGlyphs" text-anchor="start">(nmol/L)</text><text x="976.0" y="950.5" textLength="108.5" lengthAdjust="spacingAndGlyphs" text-anchor="start">Age (years)</text><text x="535.5" y="277.6" textLength="115.5" lengthAdjust="spacingAndGlyphs" text-anchor="start">Within 1 SD</text><text x="535.5" y="310.0" textLength="198.0" lengthAdjust="spacingAndGlyphs" text-anchor="start">Between 1 and 2 SD</text><text x="535.5" y="342.9" textLength="198.0" lengthAdjust="spacingAndGlyphs" text-anchor="start">Between 2 and 3 SD</text><text x="535.5" y="375.7" textLength="129.5" lengthAdjust="spacingAndGlyphs" text-anchor="start">Outside 3 SD</text><text x="535.5" y="408.5" textLength="86.0" lengthAdjust="spacingAndGlyphs" text-anchor="start">Mean TT</text></g>
<circle cx="516.5" cy="270.6" r="3.3" fill="none" stroke="#d65a4c" stroke-width="1.3"/>
<circle cx="516.5" cy="304" r="3.2" fill="#4f86cf"/>
<circle cx="516.5" cy="336.5" r="3.2" fill="#b3c25e"/>
<circle cx="516.5" cy="369.5" r="3.2" fill="#7c7b9c"/>
<rect x="514" y="401.5" width="8" height="3" fill="#44a4cf"/>
</svg>
<div class="abs" id="fname">Screenshot (4924).png</div>
<div class="abs" id="caption">madman · May 30, 2021 at 3:22 PM</div>

<div class="abs nav" style="left:10px"><svg width="56" height="57"><polyline points="33,15.5 22.5,25.5 33,35.5" fill="none" stroke="#dcdcdc" stroke-width="1.8"/></svg></div>
<div class="abs nav" style="left:1854px"><svg width="56" height="57"><polyline points="23,15.5 33.5,25.5 23,35.5" fill="none" stroke="#dcdcdc" stroke-width="1.8"/></svg></div>
</body></html>
